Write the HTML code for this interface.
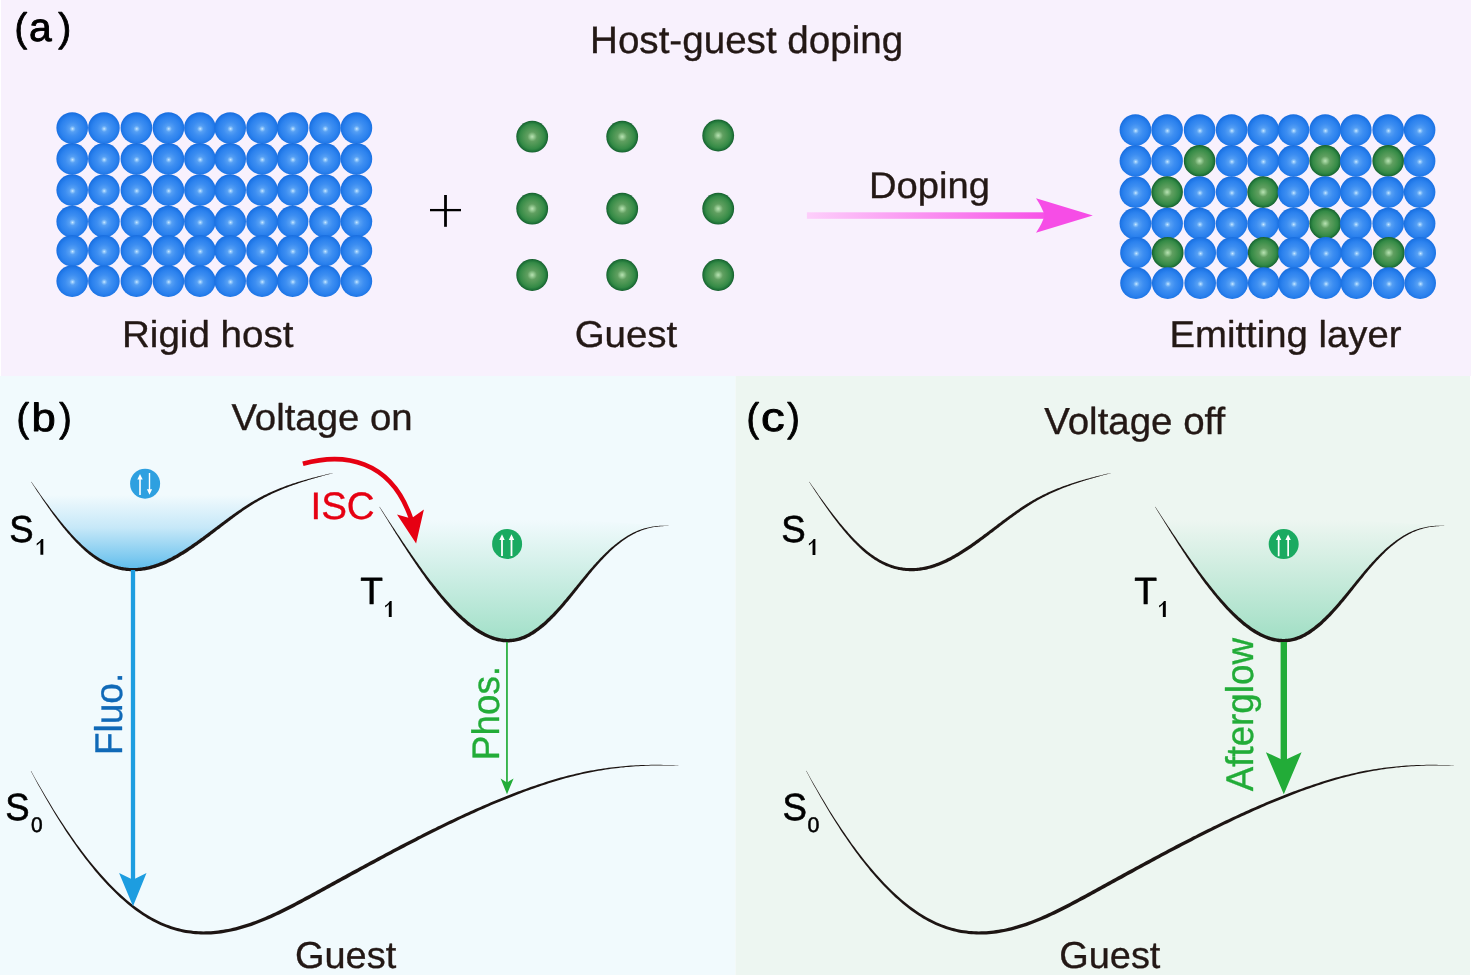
<!DOCTYPE html><html><head><meta charset="utf-8"><style>html,body{margin:0;padding:0;background:#fff}body{width:1471px;height:975px;overflow:hidden}</style></head><body><svg width="1471" height="975" viewBox="0 0 1471 975" style="display:block;font-family:'Liberation Sans',sans-serif;will-change:transform;text-rendering:geometricPrecision">
<defs>
<radialGradient id="gb" cx="0.51" cy="0.527" r="0.5" fx="0.51" fy="0.527">
<stop offset="0" stop-color="#d0ebff"/><stop offset="0.08" stop-color="#8fc6fb"/><stop offset="0.2" stop-color="#559ff4"/><stop offset="0.45" stop-color="#3d8ef1"/><stop offset="0.75" stop-color="#2c82ee"/><stop offset="0.93" stop-color="#1f77e7"/><stop offset="1" stop-color="#1b70e1"/>
</radialGradient>
<radialGradient id="gg" cx="0.5" cy="0.5" r="0.5">
<stop offset="0" stop-color="#b9e1b3"/><stop offset="0.12" stop-color="#95ca92"/><stop offset="0.3" stop-color="#609f60"/><stop offset="0.55" stop-color="#4a9552"/><stop offset="0.78" stop-color="#348a46"/><stop offset="0.92" stop-color="#1f7338"/><stop offset="1" stop-color="#155d2d"/>
</radialGradient>
<linearGradient id="garr" x1="807" x2="1045" y1="0" y2="0" gradientUnits="userSpaceOnUse">
<stop offset="0" stop-color="#fdcffb"/><stop offset="1" stop-color="#f752e7"/>
</linearGradient>
<linearGradient id="gS1" x1="0" x2="0" y1="495" y2="571" gradientUnits="userSpaceOnUse">
<stop offset="0" stop-color="#4db5ea" stop-opacity="0"/><stop offset="0.43" stop-color="#4db5ea" stop-opacity="0.26"/><stop offset="0.82" stop-color="#4db5ea" stop-opacity="0.70"/><stop offset="1" stop-color="#4db5ea" stop-opacity="0.92"/>
</linearGradient>
<linearGradient id="gT1" x1="0" x2="0" y1="520" y2="643" gradientUnits="userSpaceOnUse">
<stop offset="0" stop-color="#84d6b4" stop-opacity="0"/><stop offset="1" stop-color="#84d6b4" stop-opacity="0.74"/>
</linearGradient>
</defs>
<rect width="1471" height="975" fill="#fff"/>
<rect x="1" y="0" width="1470" height="376" fill="#f8f1fd"/>
<rect x="0" y="376" width="735.5" height="599" fill="#f1fafd"/>
<rect x="735.5" y="376" width="734.5" height="599" fill="#edf6f1"/>
<circle cx="72.2" cy="128.0" r="15.8" fill="url(#gb)"/>
<circle cx="103.9" cy="128.0" r="15.8" fill="url(#gb)"/>
<circle cx="136.4" cy="128.0" r="15.8" fill="url(#gb)"/>
<circle cx="168.4" cy="128.0" r="15.8" fill="url(#gb)"/>
<circle cx="199.9" cy="128.0" r="15.8" fill="url(#gb)"/>
<circle cx="230.2" cy="128.0" r="15.8" fill="url(#gb)"/>
<circle cx="262.0" cy="128.0" r="15.8" fill="url(#gb)"/>
<circle cx="292.6" cy="128.0" r="15.8" fill="url(#gb)"/>
<circle cx="325.0" cy="128.0" r="15.8" fill="url(#gb)"/>
<circle cx="356.4" cy="128.0" r="15.8" fill="url(#gb)"/>
<circle cx="72.2" cy="158.9" r="15.8" fill="url(#gb)"/>
<circle cx="103.9" cy="158.9" r="15.8" fill="url(#gb)"/>
<circle cx="136.4" cy="158.9" r="15.8" fill="url(#gb)"/>
<circle cx="168.4" cy="158.9" r="15.8" fill="url(#gb)"/>
<circle cx="199.9" cy="158.9" r="15.8" fill="url(#gb)"/>
<circle cx="230.2" cy="158.9" r="15.8" fill="url(#gb)"/>
<circle cx="262.0" cy="158.9" r="15.8" fill="url(#gb)"/>
<circle cx="292.6" cy="158.9" r="15.8" fill="url(#gb)"/>
<circle cx="325.0" cy="158.9" r="15.8" fill="url(#gb)"/>
<circle cx="356.4" cy="158.9" r="15.8" fill="url(#gb)"/>
<circle cx="72.2" cy="190.1" r="15.8" fill="url(#gb)"/>
<circle cx="103.9" cy="190.1" r="15.8" fill="url(#gb)"/>
<circle cx="136.4" cy="190.1" r="15.8" fill="url(#gb)"/>
<circle cx="168.4" cy="190.1" r="15.8" fill="url(#gb)"/>
<circle cx="199.9" cy="190.1" r="15.8" fill="url(#gb)"/>
<circle cx="230.2" cy="190.1" r="15.8" fill="url(#gb)"/>
<circle cx="262.0" cy="190.1" r="15.8" fill="url(#gb)"/>
<circle cx="292.6" cy="190.1" r="15.8" fill="url(#gb)"/>
<circle cx="325.0" cy="190.1" r="15.8" fill="url(#gb)"/>
<circle cx="356.4" cy="190.1" r="15.8" fill="url(#gb)"/>
<circle cx="72.2" cy="221.6" r="15.8" fill="url(#gb)"/>
<circle cx="103.9" cy="221.6" r="15.8" fill="url(#gb)"/>
<circle cx="136.4" cy="221.6" r="15.8" fill="url(#gb)"/>
<circle cx="168.4" cy="221.6" r="15.8" fill="url(#gb)"/>
<circle cx="199.9" cy="221.6" r="15.8" fill="url(#gb)"/>
<circle cx="230.2" cy="221.6" r="15.8" fill="url(#gb)"/>
<circle cx="262.0" cy="221.6" r="15.8" fill="url(#gb)"/>
<circle cx="292.6" cy="221.6" r="15.8" fill="url(#gb)"/>
<circle cx="325.0" cy="221.6" r="15.8" fill="url(#gb)"/>
<circle cx="356.4" cy="221.6" r="15.8" fill="url(#gb)"/>
<circle cx="72.2" cy="250.7" r="15.8" fill="url(#gb)"/>
<circle cx="103.9" cy="250.7" r="15.8" fill="url(#gb)"/>
<circle cx="136.4" cy="250.7" r="15.8" fill="url(#gb)"/>
<circle cx="168.4" cy="250.7" r="15.8" fill="url(#gb)"/>
<circle cx="199.9" cy="250.7" r="15.8" fill="url(#gb)"/>
<circle cx="230.2" cy="250.7" r="15.8" fill="url(#gb)"/>
<circle cx="262.0" cy="250.7" r="15.8" fill="url(#gb)"/>
<circle cx="292.6" cy="250.7" r="15.8" fill="url(#gb)"/>
<circle cx="325.0" cy="250.7" r="15.8" fill="url(#gb)"/>
<circle cx="356.4" cy="250.7" r="15.8" fill="url(#gb)"/>
<circle cx="72.2" cy="281.1" r="15.8" fill="url(#gb)"/>
<circle cx="103.9" cy="281.1" r="15.8" fill="url(#gb)"/>
<circle cx="136.4" cy="281.1" r="15.8" fill="url(#gb)"/>
<circle cx="168.4" cy="281.1" r="15.8" fill="url(#gb)"/>
<circle cx="199.9" cy="281.1" r="15.8" fill="url(#gb)"/>
<circle cx="230.2" cy="281.1" r="15.8" fill="url(#gb)"/>
<circle cx="262.0" cy="281.1" r="15.8" fill="url(#gb)"/>
<circle cx="292.6" cy="281.1" r="15.8" fill="url(#gb)"/>
<circle cx="325.0" cy="281.1" r="15.8" fill="url(#gb)"/>
<circle cx="356.4" cy="281.1" r="15.8" fill="url(#gb)"/>
<circle cx="532.2" cy="136.7" r="15.9" fill="url(#gg)"/>
<circle cx="532.2" cy="208.7" r="15.9" fill="url(#gg)"/>
<circle cx="532.2" cy="275.0" r="15.9" fill="url(#gg)"/>
<circle cx="622.2" cy="136.7" r="15.9" fill="url(#gg)"/>
<circle cx="622.2" cy="208.7" r="15.9" fill="url(#gg)"/>
<circle cx="622.2" cy="275.0" r="15.9" fill="url(#gg)"/>
<circle cx="718.2" cy="135.5" r="15.9" fill="url(#gg)"/>
<circle cx="718.2" cy="208.7" r="15.9" fill="url(#gg)"/>
<circle cx="718.2" cy="275.0" r="15.9" fill="url(#gg)"/>
<circle cx="1135.4" cy="130.0" r="15.8" fill="url(#gb)"/>
<circle cx="1167.1" cy="130.0" r="15.8" fill="url(#gb)"/>
<circle cx="1199.6" cy="130.0" r="15.8" fill="url(#gb)"/>
<circle cx="1231.6" cy="130.0" r="15.8" fill="url(#gb)"/>
<circle cx="1263.1" cy="130.0" r="15.8" fill="url(#gb)"/>
<circle cx="1293.4" cy="130.0" r="15.8" fill="url(#gb)"/>
<circle cx="1325.2" cy="130.0" r="15.8" fill="url(#gb)"/>
<circle cx="1355.8" cy="130.0" r="15.8" fill="url(#gb)"/>
<circle cx="1388.2" cy="130.0" r="15.8" fill="url(#gb)"/>
<circle cx="1419.6" cy="130.0" r="15.8" fill="url(#gb)"/>
<circle cx="1135.4" cy="160.9" r="15.8" fill="url(#gb)"/>
<circle cx="1167.1" cy="160.9" r="15.8" fill="url(#gb)"/>
<circle cx="1199.6" cy="160.9" r="15.8" fill="url(#gg)"/>
<circle cx="1231.6" cy="160.9" r="15.8" fill="url(#gb)"/>
<circle cx="1263.1" cy="160.9" r="15.8" fill="url(#gb)"/>
<circle cx="1293.4" cy="160.9" r="15.8" fill="url(#gb)"/>
<circle cx="1325.2" cy="160.9" r="15.8" fill="url(#gg)"/>
<circle cx="1355.8" cy="160.9" r="15.8" fill="url(#gb)"/>
<circle cx="1388.2" cy="160.9" r="15.8" fill="url(#gg)"/>
<circle cx="1419.6" cy="160.9" r="15.8" fill="url(#gb)"/>
<circle cx="1135.4" cy="192.1" r="15.8" fill="url(#gb)"/>
<circle cx="1167.1" cy="192.1" r="15.8" fill="url(#gg)"/>
<circle cx="1199.6" cy="192.1" r="15.8" fill="url(#gb)"/>
<circle cx="1231.6" cy="192.1" r="15.8" fill="url(#gb)"/>
<circle cx="1263.1" cy="192.1" r="15.8" fill="url(#gg)"/>
<circle cx="1293.4" cy="192.1" r="15.8" fill="url(#gb)"/>
<circle cx="1325.2" cy="192.1" r="15.8" fill="url(#gb)"/>
<circle cx="1355.8" cy="192.1" r="15.8" fill="url(#gb)"/>
<circle cx="1388.2" cy="192.1" r="15.8" fill="url(#gb)"/>
<circle cx="1419.6" cy="192.1" r="15.8" fill="url(#gb)"/>
<circle cx="1135.4" cy="223.6" r="15.8" fill="url(#gb)"/>
<circle cx="1167.1" cy="223.6" r="15.8" fill="url(#gb)"/>
<circle cx="1199.6" cy="223.6" r="15.8" fill="url(#gb)"/>
<circle cx="1231.6" cy="223.6" r="15.8" fill="url(#gb)"/>
<circle cx="1263.1" cy="223.6" r="15.8" fill="url(#gb)"/>
<circle cx="1293.4" cy="223.6" r="15.8" fill="url(#gb)"/>
<circle cx="1325.2" cy="223.6" r="15.8" fill="url(#gg)"/>
<circle cx="1355.8" cy="223.6" r="15.8" fill="url(#gb)"/>
<circle cx="1388.2" cy="223.6" r="15.8" fill="url(#gb)"/>
<circle cx="1419.6" cy="223.6" r="15.8" fill="url(#gb)"/>
<circle cx="1136.0" cy="252.7" r="15.8" fill="url(#gb)"/>
<circle cx="1167.7" cy="252.7" r="15.8" fill="url(#gg)"/>
<circle cx="1200.2" cy="252.7" r="15.8" fill="url(#gb)"/>
<circle cx="1232.2" cy="252.7" r="15.8" fill="url(#gb)"/>
<circle cx="1263.7" cy="252.7" r="15.8" fill="url(#gg)"/>
<circle cx="1294.0" cy="252.7" r="15.8" fill="url(#gb)"/>
<circle cx="1325.8" cy="252.7" r="15.8" fill="url(#gb)"/>
<circle cx="1356.4" cy="252.7" r="15.8" fill="url(#gb)"/>
<circle cx="1388.8" cy="252.7" r="15.8" fill="url(#gg)"/>
<circle cx="1420.2" cy="252.7" r="15.8" fill="url(#gb)"/>
<circle cx="1136.0" cy="283.1" r="15.8" fill="url(#gb)"/>
<circle cx="1167.7" cy="283.1" r="15.8" fill="url(#gb)"/>
<circle cx="1200.2" cy="283.1" r="15.8" fill="url(#gb)"/>
<circle cx="1232.2" cy="283.1" r="15.8" fill="url(#gb)"/>
<circle cx="1263.7" cy="283.1" r="15.8" fill="url(#gb)"/>
<circle cx="1294.0" cy="283.1" r="15.8" fill="url(#gb)"/>
<circle cx="1325.8" cy="283.1" r="15.8" fill="url(#gb)"/>
<circle cx="1356.4" cy="283.1" r="15.8" fill="url(#gb)"/>
<circle cx="1388.8" cy="283.1" r="15.8" fill="url(#gb)"/>
<circle cx="1420.2" cy="283.1" r="15.8" fill="url(#gb)"/>
<path d="M430 210.1H461" stroke="#000" stroke-width="2.3" fill="none"/><path d="M445.5 195V226.8" stroke="#000" stroke-width="2.8" fill="none"/>
<rect x="806.9" y="212.3" width="240" height="6.5" fill="url(#garr)"/>
<path d="M1092.8 215.5L1036 198.2Q1042.5 208 1044.6 215.5Q1042.5 223 1036 232.8Z" fill="#f64de6"/>
<text transform="translate(590.01,52.80) scale(1.0068,1)" font-size="38.34" fill="#231815" stroke="#231815" stroke-width="0.35" stroke-linejoin="round" vector-effect="non-scaling-stroke">Host-guest doping</text>
<text transform="translate(122.02,346.50) scale(1.0329,1)" font-size="37.35" fill="#231815" stroke="#231815" stroke-width="0.35" stroke-linejoin="round" vector-effect="non-scaling-stroke">Rigid host</text>
<text transform="translate(574.68,346.50) scale(1.0300,1)" font-size="37.35" fill="#231815" stroke="#231815" stroke-width="0.35" stroke-linejoin="round" vector-effect="non-scaling-stroke">Guest</text>
<text transform="translate(869.05,198.30) scale(1.0333,1)" font-size="36.92" fill="#231815" stroke="#231815" stroke-width="0.35" stroke-linejoin="round" vector-effect="non-scaling-stroke">Doping</text>
<text transform="translate(1169.44,346.80) scale(1.0261,1)" font-size="37.35" fill="#231815" stroke="#231815" stroke-width="0.35" stroke-linejoin="round" vector-effect="non-scaling-stroke">Emitting layer</text>
<text transform="translate(231.41,430.40) scale(1.0273,1)" font-size="37.35" fill="#231815" stroke="#231815" stroke-width="0.35" stroke-linejoin="round" vector-effect="non-scaling-stroke">Voltage on</text>
<text transform="translate(1044.21,433.60) scale(1.0217,1)" font-size="37.63" fill="#231815" stroke="#231815" stroke-width="0.35" stroke-linejoin="round" vector-effect="non-scaling-stroke">Voltage off</text>
<text transform="translate(310.44,518.50) scale(1.0065,1)" font-size="38.25" fill="#e60012" stroke="#e60012" stroke-width="0.35" stroke-linejoin="round" vector-effect="non-scaling-stroke">ISC</text>
<text transform="translate(295.00,968.30) scale(1.0118,1)" font-size="37.49" fill="#231815" stroke="#231815" stroke-width="0.35" stroke-linejoin="round" vector-effect="non-scaling-stroke">Guest</text>
<text transform="translate(1059.31,968.30) scale(1.0108,1)" font-size="37.49" fill="#231815" stroke="#231815" stroke-width="0.35" stroke-linejoin="round" vector-effect="non-scaling-stroke">Guest</text>
<text transform="translate(14.57,41.19) scale(0.9524,0.9946)" font-size="40.0" fill="#000" stroke="#000" stroke-width="0.9" stroke-linejoin="round" vector-effect="non-scaling-stroke">(</text>
<text transform="translate(29.02,41.05) scale(1.0195,1.0000)" font-size="40.0" fill="#000" stroke="#000" stroke-width="0.9" stroke-linejoin="round" vector-effect="non-scaling-stroke">a</text>
<text transform="translate(58.16,41.19) scale(0.9714,0.9946)" font-size="40.0" fill="#000" stroke="#000" stroke-width="0.9" stroke-linejoin="round" vector-effect="non-scaling-stroke">)</text>
<text transform="translate(16.59,431.29) scale(0.9429,0.9946)" font-size="40.0" fill="#000" stroke="#000" stroke-width="0.9" stroke-linejoin="round" vector-effect="non-scaling-stroke">(</text>
<text transform="translate(31.52,431.16) scale(1.0889,0.9830)" font-size="40.0" fill="#000" stroke="#000" stroke-width="0.9" stroke-linejoin="round" vector-effect="non-scaling-stroke">b</text>
<text transform="translate(59.27,431.29) scale(0.9333,0.9946)" font-size="40.0" fill="#000" stroke="#000" stroke-width="0.9" stroke-linejoin="round" vector-effect="non-scaling-stroke">)</text>
<text transform="translate(746.59,431.29) scale(0.9429,0.9946)" font-size="40.0" fill="#000" stroke="#000" stroke-width="0.9" stroke-linejoin="round" vector-effect="non-scaling-stroke">(</text>
<text transform="translate(761.03,431.14) scale(1.1860,1.0137)" font-size="40.0" fill="#000" stroke="#000" stroke-width="0.9" stroke-linejoin="round" vector-effect="non-scaling-stroke">c</text>
<text transform="translate(787.17,431.29) scale(0.9429,0.9946)" font-size="40.0" fill="#000" stroke="#000" stroke-width="0.9" stroke-linejoin="round" vector-effect="non-scaling-stroke">)</text>
<text transform="translate(9.26,542.42) scale(0.9130,0.9399)" font-size="40.0" fill="#000" stroke="#000" stroke-width="0.6" stroke-linejoin="round" vector-effect="non-scaling-stroke">S</text>
<path d="M43.30 554.70H40.40V542.30C39.21 543.64 38.15 544.82 36.70 545.46V543.40C38.68 542.38 40.54 540.48 41.50 538.90H43.30Z" fill="#000"/>
<text transform="translate(5.36,819.62) scale(0.9130,0.9435)" font-size="40.0" fill="#000" stroke="#000" stroke-width="0.6" stroke-linejoin="round" vector-effect="non-scaling-stroke">S</text>
<text transform="translate(31.06,832.29) scale(0.5236,0.5265)" font-size="40.0" fill="#000" stroke="#000" stroke-width="1.0" stroke-linejoin="round" vector-effect="non-scaling-stroke">0</text>
<text transform="translate(360.36,603.50) scale(0.9292,0.9491)" font-size="40.0" fill="#000" stroke="#000" stroke-width="0.6" stroke-linejoin="round" vector-effect="non-scaling-stroke">T</text>
<path d="M391.70 616.90H388.80V604.34C387.61 605.70 386.55 606.90 385.10 607.54V605.46C387.08 604.42 388.94 602.50 389.90 600.90H391.70Z" fill="#000"/>
<text transform="translate(781.35,542.42) scale(0.9174,0.9399)" font-size="40.0" fill="#000" stroke="#000" stroke-width="0.6" stroke-linejoin="round" vector-effect="non-scaling-stroke">S</text>
<path d="M815.40 554.90H812.54V542.34C811.37 543.70 810.33 544.90 808.90 545.54V543.46C810.85 542.42 812.68 540.50 813.63 538.90H815.40Z" fill="#000"/>
<text transform="translate(782.45,819.62) scale(0.9174,0.9435)" font-size="40.0" fill="#000" stroke="#000" stroke-width="0.6" stroke-linejoin="round" vector-effect="non-scaling-stroke">S</text>
<text transform="translate(807.55,832.29) scale(0.5340,0.5265)" font-size="40.0" fill="#000" stroke="#000" stroke-width="1.0" stroke-linejoin="round" vector-effect="non-scaling-stroke">0</text>
<text transform="translate(1134.36,603.50) scale(0.9336,0.9491)" font-size="40.0" fill="#000" stroke="#000" stroke-width="0.6" stroke-linejoin="round" vector-effect="non-scaling-stroke">T</text>
<path d="M1165.80 616.90H1162.85V604.34C1161.65 605.70 1160.57 606.90 1159.10 607.54V605.46C1161.11 604.42 1163.00 602.50 1163.97 600.90H1165.80Z" fill="#000"/>
<text transform="translate(121.80,755.05) rotate(-90) scale(0.9584,1)" font-size="38.63" fill="#1069b7" stroke="#1069b7" stroke-width="0.35" stroke-linejoin="round">Fluo.</text>
<text transform="translate(498.70,760.14) rotate(-90) scale(0.9612,1)" font-size="38.34" fill="#22ac38" stroke="#22ac38" stroke-width="0.35" stroke-linejoin="round">Phos.</text>
<text transform="translate(1253.00,791.29) rotate(-90) scale(0.9517,1)" font-size="38.63" fill="#22ac38" stroke="#22ac38" stroke-width="0.35" stroke-linejoin="round">Afterglow</text>
<path d="M31.3 481.9L32.5 483.6L33.6 485.4L34.8 487.1L36.0 488.8L37.1 490.5L38.3 492.2L39.4 493.9L40.6 495.6L41.8 497.3L42.9 498.9L44.1 500.6L45.3 502.2L46.4 503.9L47.6 505.5L48.7 507.1L49.9 508.7L51.1 510.3L52.2 511.9L53.4 513.4L54.6 515.0L55.7 516.5L56.9 518.0L58.1 519.5L59.2 521.0L60.4 522.5L61.5 523.9L62.7 525.4L63.9 526.8L65.0 528.2L66.2 529.6L67.4 530.9L68.5 532.3L69.7 533.6L70.9 534.9L72.0 536.2L73.2 537.5L74.3 538.7L75.5 539.9L76.7 541.1L77.8 542.3L79.0 543.5L80.2 544.6L81.3 545.7L82.5 546.8L83.6 547.9L84.8 549.0L86.0 550.0L87.1 551.0L88.3 551.9L89.5 552.9L90.6 553.8L91.8 554.7L93.0 555.6L94.1 556.4L95.3 557.2L96.4 558.0L97.6 558.7L98.8 559.5L99.9 560.2L101.1 560.9L102.3 561.5L103.4 562.1L104.6 562.7L105.8 563.3L106.9 563.8L108.1 564.3L109.2 564.8L110.4 565.3L111.6 565.8L112.7 566.2L113.9 566.6L115.1 566.9L116.2 567.3L117.4 567.6L118.5 567.9L119.7 568.2L120.9 568.4L122.0 568.6L123.2 568.8L124.4 569.0L125.5 569.2L126.7 569.3L127.9 569.4L129.0 569.5L130.2 569.6L131.3 569.6L132.5 569.7L133.7 569.7L134.8 569.6L136.0 569.6L137.2 569.5L138.3 569.5L139.5 569.4L140.7 569.2L141.8 569.1L143.0 568.9L144.1 568.7L145.3 568.5L146.5 568.3L147.6 568.1L148.8 567.8L150.0 567.5L151.1 567.2L152.3 566.9L153.4 566.6L154.6 566.2L155.8 565.9L156.9 565.5L158.1 565.1L159.3 564.7L160.4 564.2L161.6 563.8L162.8 563.3L163.9 562.8L165.1 562.3L166.2 561.8L167.4 561.2L168.6 560.7L169.7 560.1L170.9 559.5L172.1 558.9L173.2 558.3L174.4 557.7L175.6 557.0L176.7 556.4L177.9 555.7L179.0 555.0L180.2 554.3L181.4 553.6L182.5 552.9L183.7 552.2L184.9 551.5L186.0 550.7L187.2 550.0L188.3 549.2L189.5 548.4L190.7 547.6L191.8 546.8L193.0 546.0L194.2 545.2L195.3 544.4L196.5 543.6L197.7 542.7L198.8 541.9L200.0 541.1L201.1 540.2L202.3 539.4L203.5 538.5L204.6 537.6L205.8 536.8L207.0 535.9L208.1 535.0L209.3 534.2L210.5 533.3L211.6 532.4L212.8 531.5L213.9 530.6L215.1 529.7L216.3 528.9L217.4 528.0L218.6 527.1L219.8 526.2L220.9 525.3L222.1 524.4L223.2 523.6L224.4 522.7L225.6 521.8L226.7 520.9L227.9 520.1L229.1 519.2L230.2 518.3L231.4 517.5L232.6 516.6L233.7 515.8L234.9 514.9L236.0 514.1L237.2 513.3L238.4 512.4L239.5 511.6L240.7 510.8L241.9 510.0L243.0 509.2L244.2 508.4L245.4 507.6L246.5 506.9L247.7 506.1L248.8 505.4L250.0 504.6L251.2 503.9L252.3 503.2L253.5 502.5L254.7 501.8L255.8 501.1L257.0 500.4L258.1 499.8L259.3 499.1L260.5 498.5L261.6 497.8L262.8 497.2L264.0 496.6L265.1 496.0L266.3 495.4L267.5 494.9L268.6 494.3L269.8 493.7L270.9 493.2L272.1 492.7L273.3 492.1L274.4 491.6L275.6 491.1L276.8 490.6L277.9 490.1L279.1 489.6L280.3 489.1L281.4 488.7L282.6 488.2L283.7 487.7L284.9 487.3L286.1 486.9L287.2 486.4L288.4 486.0L289.6 485.6L290.7 485.2L291.9 484.8L293.0 484.4L294.2 484.0L295.4 483.6L296.5 483.2L297.7 482.8L298.9 482.4L300.0 482.1L301.2 481.7L302.4 481.3L303.5 481.0L304.7 480.6L305.8 480.3L307.0 480.0L308.2 479.6L309.3 479.3L310.5 478.9L311.7 478.6L312.8 478.3L314.0 478.0L315.2 477.6L316.3 477.3L317.5 477.0L318.6 476.7L319.8 476.4L321.0 476.1L322.1 475.8L323.3 475.5L324.5 475.2L325.6 474.9L326.8 474.6L327.9 474.3L329.1 473.9L330.3 473.6L331.4 473.3L332.6 473.0Z" fill="url(#gS1)"/>
<path d="M31.2 482.0L32.3 483.7L33.4 485.5L34.6 487.2L35.7 489.0L36.8 490.7L38.0 492.4L39.1 494.1L40.3 495.8L41.4 497.5L42.5 499.2L43.7 500.9L44.8 502.6L46.0 504.2L47.1 505.8L48.2 507.5L49.4 509.1L50.5 510.7L51.7 512.3L52.8 513.9L54.0 515.4L55.1 517.0L56.3 518.5L57.4 520.0L58.5 521.5L59.7 523.0L60.8 524.5L62.0 525.9L63.1 527.4L64.3 528.8L65.4 530.2L66.6 531.6L67.7 532.9L68.9 534.3L70.1 535.6L71.2 536.9L72.4 538.2L73.5 539.5L74.7 540.7L75.8 542.0L77.0 543.2L78.2 544.3L79.3 545.5L80.5 546.6L81.6 547.8L82.8 548.8L84.0 549.9L85.1 551.0L86.3 552.0L87.5 553.0L88.6 553.9L89.8 554.9L91.0 555.8L92.1 556.7L93.3 557.5L94.5 558.4L95.7 559.2L96.8 559.9L98.0 560.7L99.2 561.4L100.4 562.1L101.6 562.8L102.7 563.4L103.9 564.0L105.1 564.6L106.3 565.2L107.5 565.7L108.7 566.2L109.9 566.7L111.0 567.2L112.2 567.6L113.4 568.0L114.6 568.4L115.8 568.8L117.0 569.1L118.2 569.4L119.4 569.7L120.6 570.0L121.7 570.2L122.9 570.4L124.1 570.6L125.3 570.8L126.5 570.9L127.7 571.0L128.9 571.1L130.1 571.2L131.3 571.3L132.5 571.3L133.7 571.3L134.9 571.3L136.1 571.3L137.3 571.2L138.5 571.1L139.6 571.0L140.8 570.9L142.0 570.8L143.2 570.6L144.4 570.4L145.6 570.2L146.8 570.0L148.0 569.8L149.2 569.5L150.4 569.2L151.6 568.9L152.7 568.6L153.9 568.3L155.1 567.9L156.3 567.5L157.5 567.1L158.7 566.7L159.9 566.3L161.1 565.8L162.2 565.4L163.4 564.9L164.6 564.4L165.8 563.9L167.0 563.4L168.2 562.8L169.3 562.3L170.5 561.7L171.7 561.1L172.9 560.5L174.0 559.9L175.2 559.2L176.4 558.6L177.6 557.9L178.8 557.2L179.9 556.5L181.1 555.8L182.3 555.1L183.5 554.4L184.6 553.7L185.8 552.9L187.0 552.2L188.1 551.4L189.3 550.6L190.5 549.8L191.6 549.1L192.8 548.2L194.0 547.4L195.1 546.6L196.3 545.8L197.5 545.0L198.6 544.1L199.8 543.3L201.0 542.4L202.1 541.6L203.3 540.7L204.5 539.9L205.6 539.0L206.8 538.1L208.0 537.2L209.1 536.4L210.3 535.5L211.4 534.6L212.6 533.7L213.8 532.8L214.9 531.9L216.1 531.0L217.2 530.1L218.4 529.3L219.6 528.4L220.7 527.5L221.9 526.6L223.0 525.7L224.2 524.8L225.3 523.9L226.5 523.0L227.7 522.2L228.8 521.3L230.0 520.4L231.1 519.5L232.3 518.7L233.4 517.8L234.6 517.0L235.7 516.1L236.9 515.3L238.0 514.4L239.2 513.6L240.3 512.8L241.5 512.0L242.6 511.1L243.8 510.3L244.9 509.5L246.1 508.8L247.2 508.0L248.4 507.2L249.5 506.5L250.7 505.7L251.8 505.0L253.0 504.3L254.1 503.5L255.3 502.8L256.4 502.2L257.6 501.5L258.7 500.8L259.9 500.2L261.0 499.5L262.2 498.9L263.3 498.2L264.5 497.6L265.6 497.0L266.8 496.4L267.9 495.8L269.1 495.3L270.2 494.7L271.4 494.1L272.5 493.6L273.7 493.1L274.8 492.5L276.0 492.0L277.1 491.5L278.3 491.0L279.5 490.5L280.6 490.0L281.8 489.5L282.9 489.0L284.1 488.6L285.2 488.1L286.4 487.7L287.5 487.2L288.7 486.8L289.8 486.3L291.0 485.9L292.1 485.5L293.3 485.1L294.5 484.7L295.6 484.3L296.8 483.9L297.9 483.5L299.1 483.1L300.2 482.7L301.4 482.3L302.5 482.0L303.7 481.6L304.9 481.2L306.0 480.9L307.2 480.5L308.3 480.1L309.5 479.8L310.6 479.4L311.8 479.1L313.0 478.8L314.1 478.4L315.3 478.1L316.4 477.7L317.6 477.4L318.7 477.1L319.9 476.8L321.1 476.4L322.2 476.1L323.4 475.8L324.5 475.5L325.7 475.1L326.8 474.8L328.0 474.5L329.2 474.2L330.3 473.8L331.5 473.5L332.6 473.2L332.6 472.9L331.4 473.2L330.2 473.5L329.1 473.7L327.9 474.0L326.7 474.3L325.5 474.6L324.4 474.9L323.2 475.2L322.0 475.4L320.9 475.7L319.7 476.0L318.5 476.3L317.4 476.6L316.2 476.9L315.0 477.2L313.9 477.5L312.7 477.8L311.5 478.1L310.4 478.4L309.2 478.8L308.0 479.1L306.8 479.4L305.7 479.7L304.5 480.1L303.3 480.4L302.2 480.7L301.0 481.1L299.8 481.4L298.7 481.8L297.5 482.1L296.3 482.5L295.1 482.9L294.0 483.3L292.8 483.6L291.6 484.0L290.5 484.4L289.3 484.8L288.1 485.2L286.9 485.6L285.8 486.1L284.6 486.5L283.4 486.9L282.2 487.4L281.1 487.8L279.9 488.3L278.7 488.7L277.5 489.2L276.4 489.7L275.2 490.2L274.0 490.7L272.8 491.2L271.7 491.7L270.5 492.2L269.3 492.8L268.1 493.3L267.0 493.9L265.8 494.4L264.6 495.0L263.4 495.6L262.3 496.2L261.1 496.8L259.9 497.4L258.7 498.1L257.6 498.7L256.4 499.4L255.2 500.0L254.0 500.7L252.8 501.4L251.7 502.1L250.5 502.8L249.3 503.5L248.1 504.3L247.0 505.0L245.8 505.7L244.6 506.5L243.4 507.3L242.3 508.1L241.1 508.9L239.9 509.7L238.7 510.5L237.6 511.3L236.4 512.1L235.2 512.9L234.0 513.7L232.9 514.6L231.7 515.4L230.5 516.3L229.3 517.1L228.2 518.0L227.0 518.8L225.8 519.7L224.7 520.6L223.5 521.4L222.3 522.3L221.1 523.2L220.0 524.1L218.8 524.9L217.6 525.8L216.5 526.7L215.3 527.6L214.1 528.5L213.0 529.3L211.8 530.2L210.6 531.1L209.5 532.0L208.3 532.8L207.1 533.7L206.0 534.6L204.8 535.4L203.6 536.3L202.5 537.2L201.3 538.0L200.1 538.8L199.0 539.7L197.8 540.5L196.7 541.4L195.5 542.2L194.3 543.0L193.2 543.8L192.0 544.6L190.9 545.4L189.7 546.2L188.5 547.0L187.4 547.7L186.2 548.5L185.1 549.3L183.9 550.0L182.8 550.7L181.6 551.4L180.5 552.1L179.3 552.8L178.2 553.5L177.0 554.2L175.9 554.9L174.7 555.5L173.5 556.1L172.4 556.8L171.3 557.4L170.1 558.0L169.0 558.5L167.8 559.1L166.7 559.7L165.5 560.2L164.4 560.7L163.2 561.2L162.1 561.7L160.9 562.1L159.8 562.6L158.7 563.0L157.5 563.4L156.4 563.8L155.2 564.2L154.1 564.6L153.0 564.9L151.8 565.3L150.7 565.6L149.5 565.9L148.4 566.2L147.3 566.4L146.1 566.6L145.0 566.9L143.9 567.1L142.7 567.3L141.6 567.4L140.5 567.6L139.3 567.7L138.2 567.8L137.1 567.9L135.9 567.9L134.8 568.0L133.7 568.0L132.5 568.0L131.4 568.0L130.3 567.9L129.1 567.9L128.0 567.8L126.9 567.7L125.7 567.6L124.6 567.4L123.5 567.3L122.3 567.1L121.2 566.9L120.1 566.6L118.9 566.4L117.8 566.1L116.7 565.8L115.5 565.4L114.4 565.1L113.2 564.7L112.1 564.3L111.0 563.9L109.8 563.4L108.7 563.0L107.5 562.5L106.4 561.9L105.3 561.4L104.1 560.8L103.0 560.2L101.8 559.6L100.7 558.9L99.5 558.3L98.4 557.6L97.2 556.8L96.1 556.1L94.9 555.3L93.8 554.5L92.6 553.6L91.5 552.7L90.3 551.8L89.1 550.9L88.0 550.0L86.8 549.0L85.7 548.0L84.5 547.0L83.3 545.9L82.2 544.9L81.0 543.8L79.8 542.6L78.7 541.5L77.5 540.3L76.3 539.2L75.2 537.9L74.0 536.7L72.8 535.5L71.6 534.2L70.5 532.9L69.3 531.6L68.1 530.3L67.0 528.9L65.8 527.6L64.6 526.2L63.4 524.8L62.2 523.3L61.1 521.9L59.9 520.5L58.7 519.0L57.5 517.5L56.4 516.0L55.2 514.5L54.0 513.0L52.8 511.4L51.6 509.9L50.4 508.3L49.3 506.7L48.1 505.1L46.9 503.5L45.7 501.9L44.5 500.3L43.3 498.7L42.1 497.0L41.0 495.4L39.8 493.7L38.6 492.0L37.4 490.3L36.2 488.6L35.0 486.9L33.8 485.2L32.6 483.5L31.4 481.8Z" fill="#1d1513"/>
<path d="M379.5 506.9L380.6 508.6L381.7 510.4L382.8 512.1L384.0 513.9L385.1 515.6L386.2 517.4L387.3 519.1L388.4 520.9L389.5 522.6L390.7 524.4L391.8 526.1L392.9 527.9L394.0 529.6L395.1 531.3L396.2 533.0L397.4 534.8L398.5 536.5L399.6 538.2L400.7 539.9L401.8 541.6L402.9 543.3L404.0 545.0L405.2 546.7L406.3 548.3L407.4 550.0L408.5 551.7L409.6 553.3L410.7 555.0L411.9 556.6L413.0 558.3L414.1 559.9L415.2 561.5L416.3 563.1L417.4 564.7L418.6 566.3L419.7 567.9L420.8 569.4L421.9 571.0L423.0 572.6L424.1 574.1L425.2 575.6L426.4 577.1L427.5 578.6L428.6 580.1L429.7 581.6L430.8 583.1L431.9 584.6L433.1 586.0L434.2 587.4L435.3 588.9L436.4 590.3L437.5 591.7L438.6 593.0L439.8 594.4L440.9 595.8L442.0 597.1L443.1 598.4L444.2 599.7L445.3 601.0L446.4 602.3L447.6 603.5L448.7 604.8L449.8 606.0L450.9 607.2L452.0 608.4L453.1 609.6L454.3 610.7L455.4 611.9L456.5 613.0L457.6 614.1L458.7 615.2L459.8 616.3L461.0 617.3L462.1 618.3L463.2 619.3L464.3 620.3L465.4 621.3L466.5 622.2L467.7 623.2L468.8 624.1L469.9 625.0L471.0 625.8L472.1 626.7L473.2 627.5L474.3 628.3L475.5 629.1L476.6 629.8L477.7 630.6L478.8 631.3L479.9 631.9L481.0 632.6L482.2 633.2L483.3 633.8L484.4 634.4L485.5 635.0L486.6 635.5L487.7 636.0L488.9 636.5L490.0 637.0L491.1 637.4L492.2 637.8L493.3 638.2L494.4 638.6L495.5 638.9L496.7 639.2L497.8 639.5L498.9 639.7L500.0 639.9L501.1 640.1L502.2 640.3L503.4 640.4L504.5 640.5L505.6 640.6L506.7 640.6L507.8 640.6L508.9 640.6L510.1 640.6L511.2 640.5L512.3 640.4L513.4 640.3L514.5 640.1L515.6 639.9L516.7 639.6L517.9 639.4L519.0 639.1L520.1 638.7L521.2 638.4L522.3 638.0L523.4 637.5L524.6 637.1L525.7 636.6L526.8 636.0L527.9 635.5L529.0 634.9L530.1 634.3L531.3 633.6L532.4 632.9L533.5 632.2L534.6 631.5L535.7 630.7L536.8 629.9L537.9 629.1L539.1 628.2L540.2 627.4L541.3 626.5L542.4 625.5L543.5 624.6L544.6 623.6L545.8 622.6L546.9 621.6L548.0 620.6L549.1 619.5L550.2 618.4L551.3 617.3L552.5 616.2L553.6 615.0L554.7 613.9L555.8 612.7L556.9 611.5L558.0 610.3L559.1 609.0L560.3 607.8L561.4 606.5L562.5 605.2L563.6 603.9L564.7 602.6L565.8 601.3L567.0 599.9L568.1 598.6L569.2 597.2L570.3 595.8L571.4 594.5L572.5 593.1L573.7 591.7L574.8 590.3L575.9 589.0L577.0 587.6L578.1 586.2L579.2 584.8L580.3 583.4L581.5 582.0L582.6 580.6L583.7 579.3L584.8 577.9L585.9 576.5L587.0 575.2L588.2 573.8L589.3 572.5L590.4 571.1L591.5 569.8L592.6 568.5L593.7 567.2L594.9 565.9L596.0 564.7L597.1 563.4L598.2 562.2L599.3 561.0L600.4 559.8L601.6 558.6L602.7 557.4L603.8 556.3L604.9 555.2L606.0 554.1L607.1 553.0L608.2 551.9L609.4 550.9L610.5 549.8L611.6 548.8L612.7 547.8L613.8 546.9L614.9 545.9L616.1 545.0L617.2 544.1L618.3 543.2L619.4 542.3L620.5 541.5L621.6 540.7L622.8 539.9L623.9 539.1L625.0 538.3L626.1 537.6L627.2 536.9L628.3 536.2L629.4 535.6L630.6 534.9L631.7 534.3L632.8 533.7L633.9 533.1L635.0 532.6L636.1 532.1L637.3 531.6L638.4 531.1L639.5 530.7L640.6 530.2L641.7 529.8L642.8 529.4L644.0 529.1L645.1 528.7L646.2 528.4L647.3 528.1L648.4 527.9L649.5 527.6L650.6 527.4L651.8 527.1L652.9 526.9L654.0 526.8L655.1 526.6L656.2 526.5L657.3 526.3L658.5 526.2L659.6 526.1L660.7 526.0L661.8 526.0L662.9 525.9L664.0 525.9L665.2 525.9L666.3 525.9L667.4 525.9L668.5 525.9Z" fill="url(#gT1)"/>
<path d="M379.4 506.9L380.5 508.7L381.5 510.5L382.6 512.3L383.7 514.0L384.8 515.8L385.9 517.6L387.0 519.3L388.1 521.1L389.2 522.9L390.3 524.6L391.4 526.4L392.5 528.1L393.5 529.9L394.6 531.6L395.7 533.4L396.8 535.1L397.9 536.8L399.0 538.6L400.1 540.3L401.2 542.0L402.3 543.7L403.4 545.4L404.5 547.1L405.6 548.8L406.7 550.5L407.8 552.2L408.9 553.8L410.0 555.5L411.1 557.2L412.2 558.8L413.3 560.4L414.4 562.1L415.5 563.7L416.6 565.3L417.7 566.9L418.8 568.5L419.9 570.1L421.0 571.7L422.1 573.2L423.2 574.8L424.3 576.3L425.4 577.9L426.5 579.4L427.6 580.9L428.7 582.4L429.8 583.9L430.9 585.3L432.0 586.8L433.1 588.2L434.3 589.7L435.4 591.1L436.5 592.5L437.6 593.9L438.7 595.3L439.8 596.6L440.9 598.0L442.0 599.3L443.1 600.6L444.2 602.0L445.4 603.2L446.5 604.5L447.6 605.8L448.7 607.0L449.8 608.2L450.9 609.4L452.0 610.6L453.2 611.8L454.3 613.0L455.4 614.1L456.5 615.2L457.6 616.3L458.8 617.4L459.9 618.5L461.0 619.5L462.1 620.5L463.2 621.5L464.4 622.5L465.5 623.5L466.6 624.4L467.7 625.4L468.9 626.3L470.0 627.1L471.1 628.0L472.3 628.8L473.4 629.7L474.5 630.4L475.6 631.2L476.8 632.0L477.9 632.7L479.1 633.4L480.2 634.1L481.3 634.7L482.5 635.3L483.6 636.0L484.7 636.5L485.9 637.1L487.0 637.6L488.2 638.1L489.3 638.6L490.5 639.0L491.6 639.5L492.8 639.9L493.9 640.2L495.1 640.6L496.2 640.9L497.4 641.2L498.5 641.4L499.7 641.6L500.9 641.8L502.0 642.0L503.2 642.2L504.3 642.3L505.5 642.3L506.7 642.4L507.8 642.4L509.0 642.4L510.2 642.3L511.3 642.2L512.5 642.1L513.6 642.0L514.8 641.8L516.0 641.6L517.1 641.3L518.3 641.1L519.5 640.8L520.6 640.4L521.8 640.0L522.9 639.6L524.1 639.2L525.3 638.7L526.4 638.2L527.6 637.6L528.7 637.0L529.9 636.4L531.0 635.8L532.1 635.1L533.3 634.4L534.4 633.7L535.6 632.9L536.7 632.1L537.8 631.3L539.0 630.5L540.1 629.6L541.2 628.7L542.4 627.8L543.5 626.9L544.6 625.9L545.8 624.9L546.9 623.9L548.0 622.8L549.1 621.8L550.3 620.7L551.4 619.6L552.5 618.5L553.6 617.3L554.8 616.2L555.9 615.0L557.0 613.8L558.1 612.6L559.2 611.3L560.4 610.1L561.5 608.8L562.6 607.5L563.7 606.2L564.8 604.9L565.9 603.6L567.0 602.3L568.2 600.9L569.3 599.5L570.4 598.2L571.5 596.8L572.6 595.4L573.7 594.0L574.8 592.7L575.9 591.3L577.0 589.9L578.1 588.5L579.2 587.1L580.3 585.7L581.4 584.3L582.5 582.9L583.7 581.5L584.8 580.1L585.9 578.7L587.0 577.4L588.1 576.0L589.2 574.6L590.3 573.3L591.4 572.0L592.5 570.6L593.6 569.3L594.7 568.0L595.8 566.7L596.9 565.5L598.0 564.2L599.1 563.0L600.2 561.8L601.3 560.6L602.4 559.4L603.5 558.2L604.6 557.1L605.7 555.9L606.8 554.8L607.9 553.7L608.9 552.7L610.0 551.6L611.1 550.6L612.2 549.6L613.3 548.6L614.4 547.6L615.5 546.6L616.6 545.7L617.7 544.8L618.8 543.9L619.9 543.0L621.0 542.2L622.1 541.3L623.2 540.5L624.3 539.8L625.4 539.0L626.5 538.3L627.6 537.5L628.7 536.8L629.8 536.2L630.9 535.5L632.0 534.9L633.1 534.3L634.2 533.7L635.3 533.2L636.4 532.6L637.5 532.1L638.6 531.7L639.7 531.2L640.8 530.8L641.9 530.3L643.0 530.0L644.1 529.6L645.2 529.2L646.3 528.9L647.4 528.6L648.5 528.3L649.6 528.0L650.7 527.8L651.8 527.6L652.9 527.3L654.1 527.1L655.2 527.0L656.3 526.8L657.4 526.7L658.5 526.5L659.6 526.4L660.7 526.3L661.8 526.2L662.9 526.2L664.0 526.1L665.2 526.1L666.3 526.1L667.4 526.0L668.5 526.0L668.5 525.7L667.4 525.7L666.3 525.7L665.1 525.7L664.0 525.7L662.9 525.7L661.8 525.7L660.7 525.8L659.5 525.8L658.4 525.9L657.3 526.0L656.2 526.1L655.1 526.2L653.9 526.4L652.8 526.6L651.7 526.7L650.6 526.9L649.4 527.2L648.3 527.4L647.2 527.7L646.1 528.0L644.9 528.3L643.8 528.6L642.7 528.9L641.5 529.3L640.4 529.7L639.3 530.1L638.1 530.6L637.0 531.0L635.9 531.5L634.7 532.0L633.6 532.5L632.5 533.1L631.3 533.7L630.2 534.3L629.1 534.9L627.9 535.6L626.8 536.3L625.7 537.0L624.5 537.7L623.4 538.4L622.3 539.2L621.1 540.0L620.0 540.8L618.9 541.7L617.7 542.5L616.6 543.4L615.5 544.3L614.3 545.2L613.2 546.2L612.1 547.1L610.9 548.1L609.8 549.1L608.7 550.1L607.5 551.2L606.4 552.2L605.3 553.3L604.1 554.4L603.0 555.5L601.9 556.7L600.7 557.8L599.6 559.0L598.5 560.2L597.3 561.4L596.2 562.6L595.1 563.9L593.9 565.1L592.8 566.4L591.7 567.7L590.5 569.0L589.4 570.3L588.3 571.6L587.2 573.0L586.0 574.3L584.9 575.7L583.8 577.0L582.6 578.4L581.5 579.8L580.4 581.1L579.3 582.5L578.1 583.9L577.0 585.3L575.9 586.7L574.7 588.0L573.6 589.4L572.5 590.8L571.4 592.2L570.3 593.5L569.1 594.9L568.0 596.2L566.9 597.6L565.8 598.9L564.6 600.2L563.5 601.6L562.4 602.9L561.3 604.2L560.2 605.4L559.1 606.7L557.9 607.9L556.8 609.2L555.7 610.4L554.6 611.6L553.5 612.7L552.4 613.9L551.3 615.0L550.2 616.1L549.1 617.2L547.9 618.3L546.8 619.3L545.7 620.4L544.6 621.4L543.5 622.4L542.4 623.3L541.3 624.2L540.2 625.1L539.1 626.0L538.0 626.9L536.9 627.7L535.8 628.5L534.7 629.3L533.6 630.0L532.5 630.8L531.5 631.5L530.4 632.1L529.3 632.8L528.2 633.4L527.1 633.9L526.0 634.5L524.9 635.0L523.9 635.5L522.8 635.9L521.7 636.3L520.6 636.7L519.6 637.1L518.5 637.4L517.4 637.7L516.4 637.9L515.3 638.2L514.2 638.4L513.2 638.5L512.1 638.7L511.0 638.8L510.0 638.8L508.9 638.9L507.8 638.9L506.7 638.9L505.7 638.8L504.6 638.8L503.5 638.7L502.5 638.6L501.4 638.4L500.3 638.2L499.2 638.0L498.2 637.8L497.1 637.5L496.0 637.2L494.9 636.9L493.9 636.6L492.8 636.2L491.7 635.8L490.6 635.4L489.5 635.0L488.4 634.5L487.3 634.0L486.3 633.5L485.2 632.9L484.1 632.3L483.0 631.8L481.9 631.1L480.8 630.5L479.7 629.8L478.6 629.1L477.5 628.4L476.4 627.7L475.3 626.9L474.2 626.1L473.1 625.3L472.0 624.5L470.9 623.7L469.8 622.8L468.7 621.9L467.6 621.0L466.5 620.1L465.4 619.1L464.3 618.1L463.1 617.2L462.0 616.1L460.9 615.1L459.8 614.1L458.7 613.0L457.6 611.9L456.5 610.8L455.4 609.7L454.2 608.5L453.1 607.4L452.0 606.2L450.9 605.0L449.8 603.8L448.7 602.6L447.5 601.3L446.4 600.1L445.3 598.8L444.2 597.5L443.1 596.2L441.9 594.9L440.8 593.5L439.7 592.2L438.6 590.8L437.5 589.4L436.3 588.0L435.2 586.6L434.1 585.2L433.0 583.8L431.8 582.3L430.7 580.9L429.6 579.4L428.5 577.9L427.3 576.4L426.2 574.9L425.1 573.4L423.9 571.9L422.8 570.4L421.7 568.8L420.6 567.3L419.4 565.7L418.3 564.1L417.2 562.5L416.0 560.9L414.9 559.3L413.8 557.7L412.6 556.1L411.5 554.5L410.4 552.8L409.2 551.2L408.1 549.5L407.0 547.9L405.8 546.2L404.7 544.6L403.6 542.9L402.4 541.2L401.3 539.5L400.2 537.8L399.0 536.1L397.9 534.4L396.7 532.7L395.6 531.0L394.5 529.3L393.3 527.6L392.2 525.9L391.0 524.1L389.9 522.4L388.8 520.7L387.6 518.9L386.5 517.2L385.3 515.5L384.2 513.7L383.1 512.0L381.9 510.3L380.8 508.5L379.6 506.8Z" fill="#1d1513"/>
<path d="M30.8 771.0L33.2 775.6L35.7 780.2L38.1 784.7L40.6 789.1L43.1 793.5L45.5 797.8L48.0 802.1L50.5 806.3L53.0 810.4L55.4 814.5L57.9 818.5L60.4 822.5L62.9 826.3L65.3 830.2L67.8 833.9L70.3 837.6L72.8 841.2L75.3 844.8L77.7 848.3L80.2 851.7L82.7 855.1L85.2 858.4L87.7 861.6L90.2 864.7L92.7 867.8L95.1 870.9L97.6 873.8L100.1 876.7L102.6 879.5L105.1 882.3L107.6 885.0L110.1 887.6L112.6 890.1L115.1 892.6L117.6 895.0L120.1 897.4L122.6 899.6L125.1 901.8L127.6 904.0L130.1 906.0L132.6 908.0L135.1 909.9L137.6 911.7L140.2 913.5L142.7 915.2L145.2 916.8L147.7 918.4L150.2 919.8L152.7 921.2L155.3 922.6L157.8 923.8L160.3 925.0L162.8 926.1L165.4 927.1L167.9 928.1L170.4 929.0L173.0 929.8L175.5 930.5L178.0 931.2L180.6 931.8L183.1 932.4L185.6 932.9L188.2 933.3L190.7 933.6L193.2 933.9L195.8 934.2L198.3 934.3L200.9 934.5L203.4 934.5L205.9 934.5L208.5 934.5L211.0 934.4L213.5 934.2L216.1 934.0L218.6 933.7L221.1 933.4L223.7 933.0L226.2 932.6L228.7 932.1L231.3 931.6L233.8 931.0L236.3 930.4L238.8 929.8L241.4 929.1L243.9 928.3L246.4 927.6L248.9 926.8L251.5 925.9L254.0 925.0L256.5 924.1L259.0 923.1L261.5 922.1L264.1 921.1L266.6 920.1L269.1 919.0L271.6 917.9L274.1 916.7L276.6 915.6L279.2 914.4L281.7 913.2L284.2 912.0L286.7 910.8L289.2 909.5L291.7 908.2L294.2 906.9L296.7 905.6L299.2 904.3L301.7 903.0L304.2 901.6L306.8 900.3L309.3 898.9L311.8 897.6L314.3 896.2L316.8 894.8L319.3 893.5L321.8 892.1L324.3 890.7L326.8 889.3L329.3 888.0L331.8 886.6L334.3 885.2L336.8 883.8L339.3 882.5L341.8 881.1L344.3 879.7L346.8 878.4L349.3 877.0L351.8 875.6L354.3 874.2L356.8 872.9L359.3 871.5L361.8 870.1L364.2 868.8L366.7 867.4L369.2 866.1L371.7 864.7L374.2 863.4L376.7 862.0L379.2 860.7L381.7 859.3L384.2 858.0L386.7 856.6L389.2 855.3L391.7 854.0L394.2 852.6L396.7 851.3L399.2 850.0L401.7 848.7L404.2 847.4L406.7 846.1L409.2 844.7L411.7 843.4L414.2 842.2L416.7 840.9L419.2 839.6L421.6 838.3L424.1 837.0L426.6 835.8L429.1 834.5L431.6 833.2L434.1 832.0L436.6 830.7L439.1 829.5L441.6 828.3L444.1 827.0L446.6 825.8L449.1 824.6L451.6 823.4L454.1 822.2L456.6 821.0L459.0 819.8L461.5 818.6L464.0 817.5L466.5 816.3L469.0 815.2L471.5 814.0L474.0 812.9L476.5 811.7L479.0 810.6L481.5 809.5L484.0 808.4L486.5 807.3L488.9 806.2L491.4 805.1L493.9 804.1L496.4 803.0L498.9 802.0L501.4 800.9L503.9 799.9L506.4 798.9L508.9 797.9L511.4 796.9L513.9 795.9L516.3 794.9L518.8 793.9L521.3 793.0L523.8 792.0L526.3 791.1L528.8 790.2L531.3 789.3L533.8 788.4L536.3 787.5L538.8 786.7L541.2 785.8L543.7 785.0L546.2 784.2L548.7 783.3L551.2 782.6L553.7 781.8L556.2 781.0L558.7 780.3L561.2 779.5L563.7 778.8L566.1 778.1L568.6 777.5L571.1 776.8L573.6 776.2L576.1 775.5L578.6 774.9L581.1 774.3L583.6 773.8L586.1 773.2L588.6 772.7L591.1 772.2L593.5 771.7L596.0 771.2L598.5 770.8L601.0 770.4L603.5 769.9L606.0 769.6L608.5 769.2L611.0 768.8L613.5 768.5L616.0 768.2L618.5 767.9L621.0 767.6L623.5 767.4L625.9 767.1L628.4 766.9L630.9 766.7L633.4 766.5L635.9 766.3L638.4 766.2L640.9 766.0L643.4 765.9L645.9 765.8L648.4 765.7L650.9 765.6L653.4 765.5L655.9 765.5L658.4 765.5L660.9 765.4L663.4 765.4L665.9 765.4L668.4 765.5L670.9 765.5L673.4 765.5L675.9 765.6L678.4 765.7L678.4 765.4L675.9 765.2L673.4 765.1L670.9 765.0L668.4 765.0L665.9 764.9L663.4 764.9L660.9 764.8L658.4 764.8L655.9 764.8L653.4 764.8L650.9 764.8L648.4 764.9L645.9 764.9L643.4 765.0L640.9 765.1L638.4 765.2L635.9 765.3L633.4 765.5L630.9 765.6L628.4 765.8L625.9 766.0L623.3 766.2L620.8 766.4L618.3 766.7L615.8 766.9L613.3 767.2L610.8 767.5L608.3 767.8L605.8 768.2L603.3 768.5L600.8 768.9L598.3 769.3L595.8 769.7L593.3 770.2L590.7 770.6L588.2 771.1L585.7 771.6L583.2 772.1L580.7 772.7L578.2 773.2L575.7 773.8L573.2 774.4L570.7 775.0L568.2 775.6L565.7 776.3L563.1 777.0L560.6 777.6L558.1 778.3L555.6 779.1L553.1 779.8L550.6 780.5L548.1 781.3L545.6 782.1L543.1 782.9L540.6 783.7L538.0 784.5L535.5 785.4L533.0 786.2L530.5 787.1L528.0 788.0L525.5 788.9L523.0 789.8L520.5 790.7L518.0 791.6L515.5 792.6L512.9 793.5L510.4 794.5L507.9 795.5L505.4 796.5L502.9 797.5L500.4 798.5L497.9 799.5L495.4 800.5L492.9 801.6L490.4 802.6L487.9 803.7L485.3 804.7L482.8 805.8L480.3 806.9L477.8 808.0L475.3 809.1L472.8 810.2L470.3 811.3L467.8 812.5L465.3 813.6L462.8 814.8L460.3 815.9L457.8 817.1L455.2 818.2L452.7 819.4L450.2 820.6L447.7 821.8L445.2 823.0L442.7 824.2L440.2 825.4L437.7 826.6L435.2 827.9L432.7 829.1L430.2 830.3L427.7 831.6L425.2 832.8L422.7 834.1L420.2 835.4L417.6 836.6L415.1 837.9L412.6 839.2L410.1 840.5L407.6 841.8L405.1 843.0L402.6 844.3L400.1 845.6L397.6 847.0L395.1 848.3L392.6 849.6L390.1 850.9L387.6 852.2L385.1 853.6L382.6 854.9L380.1 856.2L377.6 857.6L375.1 858.9L372.6 860.3L370.1 861.6L367.6 863.0L365.1 864.3L362.6 865.7L360.0 867.0L357.5 868.4L355.0 869.7L352.5 871.1L350.0 872.5L347.5 873.8L345.0 875.2L342.5 876.6L340.0 877.9L337.5 879.3L335.0 880.7L332.5 882.1L330.0 883.4L327.5 884.8L325.0 886.2L322.5 887.6L320.0 888.9L317.5 890.3L315.0 891.7L312.5 893.1L310.0 894.4L307.5 895.8L305.0 897.1L302.6 898.5L300.1 899.8L297.6 901.1L295.1 902.5L292.6 903.8L290.1 905.1L287.6 906.3L285.1 907.6L282.6 908.8L280.1 910.0L277.6 911.2L275.2 912.4L272.7 913.6L270.2 914.7L267.7 915.8L265.2 916.9L262.7 917.9L260.3 918.9L257.8 919.9L255.3 920.9L252.8 921.8L250.3 922.7L247.9 923.5L245.4 924.3L242.9 925.1L240.4 925.8L238.0 926.5L235.5 927.2L233.0 927.8L230.5 928.4L228.1 928.9L225.6 929.3L223.1 929.8L220.7 930.1L218.2 930.5L215.7 930.7L213.3 931.0L210.8 931.2L208.3 931.3L205.9 931.3L203.4 931.4L200.9 931.3L198.5 931.2L196.0 931.1L193.6 930.9L191.1 930.6L188.6 930.3L186.2 929.9L183.7 929.4L181.2 928.9L178.8 928.3L176.3 927.7L173.8 927.0L171.4 926.2L168.9 925.3L166.4 924.4L164.0 923.4L161.5 922.4L159.0 921.3L156.5 920.1L154.1 918.8L151.6 917.4L149.1 916.0L146.6 914.5L144.1 913.0L141.6 911.3L139.2 909.6L136.7 907.8L134.2 906.0L131.7 904.0L129.2 902.0L126.7 900.0L124.2 897.8L121.7 895.6L119.2 893.3L116.7 891.0L114.2 888.5L111.7 886.0L109.2 883.5L106.7 880.8L104.2 878.1L101.7 875.3L99.2 872.5L96.7 869.6L94.1 866.6L91.6 863.6L89.1 860.4L86.6 857.3L84.1 854.0L81.6 850.7L79.1 847.3L76.5 843.9L74.0 840.3L71.5 836.8L69.0 833.1L66.5 829.4L63.9 825.6L61.4 821.8L58.9 817.9L56.4 813.9L53.8 809.9L51.3 805.8L48.8 801.6L46.3 797.4L43.7 793.1L41.2 788.8L38.7 784.4L36.1 779.9L33.6 775.4L31.0 770.8Z" fill="#1d1513"/>
<path d="M809.2 482.0L810.3 483.7L811.4 485.5L812.6 487.2L813.7 489.0L814.9 490.7L816.0 492.4L817.1 494.1L818.3 495.8L819.4 497.5L820.6 499.2L821.7 500.9L822.8 502.5L824.0 504.2L825.1 505.8L826.3 507.5L827.4 509.1L828.6 510.7L829.7 512.3L830.8 513.8L832.0 515.4L833.1 516.9L834.3 518.5L835.4 520.0L836.6 521.5L837.7 523.0L838.9 524.4L840.0 525.9L841.2 527.3L842.3 528.8L843.5 530.2L844.6 531.5L845.8 532.9L846.9 534.3L848.1 535.6L849.3 536.9L850.4 538.2L851.6 539.4L852.7 540.7L853.9 541.9L855.0 543.1L856.2 544.3L857.4 545.5L858.5 546.6L859.7 547.7L860.8 548.8L862.0 549.9L863.2 550.9L864.3 551.9L865.5 552.9L866.7 553.9L867.9 554.8L869.0 555.7L870.2 556.6L871.4 557.5L872.5 558.3L873.7 559.1L874.9 559.9L876.1 560.6L877.2 561.3L878.4 562.0L879.6 562.7L880.8 563.3L882.0 564.0L883.1 564.6L884.3 565.1L885.5 565.7L886.7 566.2L887.9 566.6L889.1 567.1L890.3 567.5L891.4 567.9L892.6 568.3L893.8 568.7L895.0 569.0L896.2 569.3L897.4 569.6L898.6 569.9L899.8 570.1L901.0 570.3L902.1 570.5L903.3 570.7L904.5 570.8L905.7 571.0L906.9 571.1L908.1 571.1L909.3 571.2L910.5 571.2L911.7 571.2L912.9 571.2L914.1 571.2L915.3 571.1L916.4 571.0L917.6 570.9L918.8 570.8L920.0 570.7L921.2 570.5L922.4 570.3L923.6 570.1L924.8 569.9L926.0 569.7L927.2 569.4L928.3 569.1L929.5 568.8L930.7 568.5L931.9 568.2L933.1 567.8L934.3 567.4L935.5 567.0L936.6 566.6L937.8 566.2L939.0 565.8L940.2 565.3L941.4 564.8L942.6 564.3L943.7 563.8L944.9 563.3L946.1 562.7L947.3 562.2L948.5 561.6L949.6 561.0L950.8 560.4L952.0 559.8L953.2 559.1L954.4 558.5L955.5 557.8L956.7 557.1L957.9 556.5L959.1 555.8L960.2 555.0L961.4 554.3L962.6 553.6L963.7 552.8L964.9 552.1L966.1 551.3L967.3 550.5L968.4 549.8L969.6 549.0L970.8 548.2L971.9 547.4L973.1 546.5L974.3 545.7L975.4 544.9L976.6 544.1L977.8 543.2L978.9 542.4L980.1 541.5L981.3 540.6L982.4 539.8L983.6 538.9L984.7 538.0L985.9 537.2L987.1 536.3L988.2 535.4L989.4 534.5L990.5 533.6L991.7 532.7L992.9 531.9L994.0 531.0L995.2 530.1L996.3 529.2L997.5 528.3L998.7 527.4L999.8 526.5L1001.0 525.6L1002.1 524.7L1003.3 523.8L1004.4 523.0L1005.6 522.1L1006.8 521.2L1007.9 520.3L1009.1 519.5L1010.2 518.6L1011.4 517.7L1012.5 516.9L1013.7 516.0L1014.8 515.2L1016.0 514.4L1017.1 513.5L1018.3 512.7L1019.5 511.9L1020.6 511.1L1021.8 510.3L1022.9 509.5L1024.1 508.7L1025.2 507.9L1026.4 507.2L1027.5 506.4L1028.7 505.7L1029.8 504.9L1031.0 504.2L1032.1 503.5L1033.3 502.8L1034.4 502.1L1035.6 501.4L1036.7 500.7L1037.9 500.1L1039.0 499.4L1040.2 498.8L1041.3 498.2L1042.5 497.6L1043.6 497.0L1044.8 496.4L1045.9 495.8L1047.1 495.2L1048.2 494.7L1049.4 494.1L1050.5 493.5L1051.7 493.0L1052.8 492.5L1054.0 492.0L1055.1 491.4L1056.3 490.9L1057.4 490.4L1058.6 490.0L1059.7 489.5L1060.9 489.0L1062.0 488.5L1063.2 488.1L1064.4 487.6L1065.5 487.2L1066.7 486.7L1067.8 486.3L1069.0 485.9L1070.1 485.5L1071.3 485.0L1072.4 484.6L1073.6 484.2L1074.8 483.8L1075.9 483.4L1077.1 483.1L1078.2 482.7L1079.4 482.3L1080.5 481.9L1081.7 481.6L1082.8 481.2L1084.0 480.8L1085.2 480.5L1086.3 480.1L1087.5 479.8L1088.6 479.4L1089.8 479.1L1090.9 478.7L1092.1 478.4L1093.3 478.1L1094.4 477.7L1095.6 477.4L1096.7 477.1L1097.9 476.7L1099.1 476.4L1100.2 476.1L1101.4 475.8L1102.5 475.4L1103.7 475.1L1104.8 474.8L1106.0 474.5L1107.2 474.2L1108.3 473.8L1109.5 473.5L1110.6 473.2L1110.6 472.9L1109.4 473.2L1108.2 473.5L1107.1 473.7L1105.9 474.0L1104.7 474.3L1103.6 474.6L1102.4 474.9L1101.2 475.2L1100.0 475.5L1098.9 475.7L1097.7 476.0L1096.5 476.3L1095.4 476.6L1094.2 476.9L1093.0 477.2L1091.9 477.5L1090.7 477.8L1089.5 478.2L1088.4 478.5L1087.2 478.8L1086.0 479.1L1084.9 479.4L1083.7 479.8L1082.5 480.1L1081.3 480.4L1080.2 480.8L1079.0 481.1L1077.8 481.5L1076.7 481.8L1075.5 482.2L1074.3 482.5L1073.2 482.9L1072.0 483.3L1070.8 483.7L1069.6 484.1L1068.5 484.5L1067.3 484.9L1066.1 485.3L1065.0 485.7L1063.8 486.1L1062.6 486.5L1061.4 487.0L1060.3 487.4L1059.1 487.9L1057.9 488.3L1056.7 488.8L1055.6 489.3L1054.4 489.7L1053.2 490.2L1052.0 490.7L1050.9 491.2L1049.7 491.8L1048.5 492.3L1047.3 492.8L1046.2 493.4L1045.0 493.9L1043.8 494.5L1042.6 495.1L1041.5 495.7L1040.3 496.3L1039.1 496.9L1037.9 497.5L1036.8 498.1L1035.6 498.8L1034.4 499.4L1033.2 500.1L1032.1 500.8L1030.9 501.4L1029.7 502.1L1028.5 502.9L1027.3 503.6L1026.2 504.3L1025.0 505.1L1023.8 505.8L1022.6 506.6L1021.5 507.3L1020.3 508.1L1019.1 508.9L1017.9 509.7L1016.8 510.5L1015.6 511.3L1014.4 512.2L1013.2 513.0L1012.1 513.8L1010.9 514.7L1009.7 515.5L1008.6 516.3L1007.4 517.2L1006.2 518.1L1005.0 518.9L1003.9 519.8L1002.7 520.6L1001.5 521.5L1000.4 522.4L999.2 523.3L998.0 524.1L996.9 525.0L995.7 525.9L994.5 526.8L993.3 527.7L992.2 528.5L991.0 529.4L989.8 530.3L988.7 531.2L987.5 532.0L986.4 532.9L985.2 533.8L984.0 534.6L982.9 535.5L981.7 536.4L980.5 537.2L979.4 538.1L978.2 538.9L977.0 539.8L975.9 540.6L974.7 541.4L973.6 542.3L972.4 543.1L971.2 543.9L970.1 544.7L968.9 545.5L967.8 546.3L966.6 547.1L965.4 547.8L964.3 548.6L963.1 549.3L962.0 550.1L960.8 550.8L959.7 551.5L958.5 552.2L957.4 552.9L956.2 553.6L955.1 554.3L953.9 555.0L952.7 555.6L951.6 556.2L950.4 556.9L949.3 557.5L948.1 558.1L947.0 558.6L945.9 559.2L944.7 559.7L943.6 560.3L942.4 560.8L941.3 561.3L940.1 561.8L939.0 562.2L937.8 562.7L936.7 563.1L935.6 563.5L934.4 563.9L933.3 564.3L932.1 564.7L931.0 565.0L929.8 565.4L928.7 565.7L927.6 566.0L926.4 566.2L925.3 566.5L924.2 566.7L923.0 567.0L921.9 567.2L920.7 567.3L919.6 567.5L918.5 567.7L917.3 567.8L916.2 567.9L915.1 568.0L913.9 568.0L912.8 568.1L911.7 568.1L910.5 568.1L909.4 568.1L908.3 568.0L907.1 568.0L906.0 567.9L904.9 567.8L903.7 567.7L902.6 567.5L901.4 567.3L900.3 567.2L899.2 566.9L898.0 566.7L896.9 566.4L895.8 566.2L894.6 565.9L893.5 565.5L892.4 565.2L891.2 564.8L890.1 564.4L888.9 564.0L887.8 563.5L886.6 563.0L885.5 562.5L884.4 562.0L883.2 561.5L882.1 560.9L880.9 560.3L879.8 559.7L878.6 559.0L877.5 558.3L876.3 557.6L875.2 556.9L874.0 556.1L872.9 555.3L871.7 554.5L870.6 553.7L869.4 552.8L868.3 551.9L867.1 551.0L865.9 550.0L864.8 549.1L863.6 548.1L862.4 547.0L861.3 546.0L860.1 544.9L859.0 543.8L857.8 542.7L856.6 541.5L855.5 540.4L854.3 539.2L853.1 538.0L851.9 536.8L850.8 535.5L849.6 534.2L848.4 532.9L847.3 531.6L846.1 530.3L844.9 529.0L843.7 527.6L842.6 526.2L841.4 524.8L840.2 523.4L839.0 521.9L837.9 520.5L836.7 519.0L835.5 517.5L834.3 516.0L833.1 514.5L832.0 513.0L830.8 511.5L829.6 509.9L828.4 508.3L827.2 506.8L826.1 505.2L824.9 503.6L823.7 501.9L822.5 500.3L821.3 498.7L820.1 497.0L818.9 495.4L817.8 493.7L816.6 492.0L815.4 490.3L814.2 488.6L813.0 486.9L811.8 485.2L810.6 483.5L809.4 481.8Z" fill="#1d1513"/>
<g transform="translate(775.7,0)">
<path d="M379.5 506.9L380.6 508.6L381.7 510.4L382.8 512.1L384.0 513.9L385.1 515.6L386.2 517.4L387.3 519.1L388.4 520.9L389.5 522.6L390.7 524.4L391.8 526.1L392.9 527.9L394.0 529.6L395.1 531.3L396.2 533.0L397.4 534.8L398.5 536.5L399.6 538.2L400.7 539.9L401.8 541.6L402.9 543.3L404.0 545.0L405.2 546.7L406.3 548.3L407.4 550.0L408.5 551.7L409.6 553.3L410.7 555.0L411.9 556.6L413.0 558.3L414.1 559.9L415.2 561.5L416.3 563.1L417.4 564.7L418.6 566.3L419.7 567.9L420.8 569.4L421.9 571.0L423.0 572.6L424.1 574.1L425.2 575.6L426.4 577.1L427.5 578.6L428.6 580.1L429.7 581.6L430.8 583.1L431.9 584.6L433.1 586.0L434.2 587.4L435.3 588.9L436.4 590.3L437.5 591.7L438.6 593.0L439.8 594.4L440.9 595.8L442.0 597.1L443.1 598.4L444.2 599.7L445.3 601.0L446.4 602.3L447.6 603.5L448.7 604.8L449.8 606.0L450.9 607.2L452.0 608.4L453.1 609.6L454.3 610.7L455.4 611.9L456.5 613.0L457.6 614.1L458.7 615.2L459.8 616.3L461.0 617.3L462.1 618.3L463.2 619.3L464.3 620.3L465.4 621.3L466.5 622.2L467.7 623.2L468.8 624.1L469.9 625.0L471.0 625.8L472.1 626.7L473.2 627.5L474.3 628.3L475.5 629.1L476.6 629.8L477.7 630.6L478.8 631.3L479.9 631.9L481.0 632.6L482.2 633.2L483.3 633.8L484.4 634.4L485.5 635.0L486.6 635.5L487.7 636.0L488.9 636.5L490.0 637.0L491.1 637.4L492.2 637.8L493.3 638.2L494.4 638.6L495.5 638.9L496.7 639.2L497.8 639.5L498.9 639.7L500.0 639.9L501.1 640.1L502.2 640.3L503.4 640.4L504.5 640.5L505.6 640.6L506.7 640.6L507.8 640.6L508.9 640.6L510.1 640.6L511.2 640.5L512.3 640.4L513.4 640.3L514.5 640.1L515.6 639.9L516.7 639.6L517.9 639.4L519.0 639.1L520.1 638.7L521.2 638.4L522.3 638.0L523.4 637.5L524.6 637.1L525.7 636.6L526.8 636.0L527.9 635.5L529.0 634.9L530.1 634.3L531.3 633.6L532.4 632.9L533.5 632.2L534.6 631.5L535.7 630.7L536.8 629.9L537.9 629.1L539.1 628.2L540.2 627.4L541.3 626.5L542.4 625.5L543.5 624.6L544.6 623.6L545.8 622.6L546.9 621.6L548.0 620.6L549.1 619.5L550.2 618.4L551.3 617.3L552.5 616.2L553.6 615.0L554.7 613.9L555.8 612.7L556.9 611.5L558.0 610.3L559.1 609.0L560.3 607.8L561.4 606.5L562.5 605.2L563.6 603.9L564.7 602.6L565.8 601.3L567.0 599.9L568.1 598.6L569.2 597.2L570.3 595.8L571.4 594.5L572.5 593.1L573.7 591.7L574.8 590.3L575.9 589.0L577.0 587.6L578.1 586.2L579.2 584.8L580.3 583.4L581.5 582.0L582.6 580.6L583.7 579.3L584.8 577.9L585.9 576.5L587.0 575.2L588.2 573.8L589.3 572.5L590.4 571.1L591.5 569.8L592.6 568.5L593.7 567.2L594.9 565.9L596.0 564.7L597.1 563.4L598.2 562.2L599.3 561.0L600.4 559.8L601.6 558.6L602.7 557.4L603.8 556.3L604.9 555.2L606.0 554.1L607.1 553.0L608.2 551.9L609.4 550.9L610.5 549.8L611.6 548.8L612.7 547.8L613.8 546.9L614.9 545.9L616.1 545.0L617.2 544.1L618.3 543.2L619.4 542.3L620.5 541.5L621.6 540.7L622.8 539.9L623.9 539.1L625.0 538.3L626.1 537.6L627.2 536.9L628.3 536.2L629.4 535.6L630.6 534.9L631.7 534.3L632.8 533.7L633.9 533.1L635.0 532.6L636.1 532.1L637.3 531.6L638.4 531.1L639.5 530.7L640.6 530.2L641.7 529.8L642.8 529.4L644.0 529.1L645.1 528.7L646.2 528.4L647.3 528.1L648.4 527.9L649.5 527.6L650.6 527.4L651.8 527.1L652.9 526.9L654.0 526.8L655.1 526.6L656.2 526.5L657.3 526.3L658.5 526.2L659.6 526.1L660.7 526.0L661.8 526.0L662.9 525.9L664.0 525.9L665.2 525.9L666.3 525.9L667.4 525.9L668.5 525.9Z" fill="url(#gT1)"/>
<path d="M379.4 506.9L380.5 508.7L381.5 510.5L382.6 512.3L383.7 514.0L384.8 515.8L385.9 517.6L387.0 519.3L388.1 521.1L389.2 522.9L390.3 524.6L391.4 526.4L392.5 528.1L393.5 529.9L394.6 531.6L395.7 533.4L396.8 535.1L397.9 536.8L399.0 538.6L400.1 540.3L401.2 542.0L402.3 543.7L403.4 545.4L404.5 547.1L405.6 548.8L406.7 550.5L407.8 552.2L408.9 553.8L410.0 555.5L411.1 557.2L412.2 558.8L413.3 560.4L414.4 562.1L415.5 563.7L416.6 565.3L417.7 566.9L418.8 568.5L419.9 570.1L421.0 571.7L422.1 573.2L423.2 574.8L424.3 576.3L425.4 577.9L426.5 579.4L427.6 580.9L428.7 582.4L429.8 583.9L430.9 585.3L432.0 586.8L433.1 588.2L434.3 589.7L435.4 591.1L436.5 592.5L437.6 593.9L438.7 595.3L439.8 596.6L440.9 598.0L442.0 599.3L443.1 600.6L444.2 602.0L445.4 603.2L446.5 604.5L447.6 605.8L448.7 607.0L449.8 608.2L450.9 609.4L452.0 610.6L453.2 611.8L454.3 613.0L455.4 614.1L456.5 615.2L457.6 616.3L458.8 617.4L459.9 618.5L461.0 619.5L462.1 620.5L463.2 621.5L464.4 622.5L465.5 623.5L466.6 624.4L467.7 625.4L468.9 626.3L470.0 627.1L471.1 628.0L472.3 628.8L473.4 629.7L474.5 630.4L475.6 631.2L476.8 632.0L477.9 632.7L479.1 633.4L480.2 634.1L481.3 634.7L482.5 635.3L483.6 636.0L484.7 636.5L485.9 637.1L487.0 637.6L488.2 638.1L489.3 638.6L490.5 639.0L491.6 639.5L492.8 639.9L493.9 640.2L495.1 640.6L496.2 640.9L497.4 641.2L498.5 641.4L499.7 641.6L500.9 641.8L502.0 642.0L503.2 642.2L504.3 642.3L505.5 642.3L506.7 642.4L507.8 642.4L509.0 642.4L510.2 642.3L511.3 642.2L512.5 642.1L513.6 642.0L514.8 641.8L516.0 641.6L517.1 641.3L518.3 641.1L519.5 640.8L520.6 640.4L521.8 640.0L522.9 639.6L524.1 639.2L525.3 638.7L526.4 638.2L527.6 637.6L528.7 637.0L529.9 636.4L531.0 635.8L532.1 635.1L533.3 634.4L534.4 633.7L535.6 632.9L536.7 632.1L537.8 631.3L539.0 630.5L540.1 629.6L541.2 628.7L542.4 627.8L543.5 626.9L544.6 625.9L545.8 624.9L546.9 623.9L548.0 622.8L549.1 621.8L550.3 620.7L551.4 619.6L552.5 618.5L553.6 617.3L554.8 616.2L555.9 615.0L557.0 613.8L558.1 612.6L559.2 611.3L560.4 610.1L561.5 608.8L562.6 607.5L563.7 606.2L564.8 604.9L565.9 603.6L567.0 602.3L568.2 600.9L569.3 599.5L570.4 598.2L571.5 596.8L572.6 595.4L573.7 594.0L574.8 592.7L575.9 591.3L577.0 589.9L578.1 588.5L579.2 587.1L580.3 585.7L581.4 584.3L582.5 582.9L583.7 581.5L584.8 580.1L585.9 578.7L587.0 577.4L588.1 576.0L589.2 574.6L590.3 573.3L591.4 572.0L592.5 570.6L593.6 569.3L594.7 568.0L595.8 566.7L596.9 565.5L598.0 564.2L599.1 563.0L600.2 561.8L601.3 560.6L602.4 559.4L603.5 558.2L604.6 557.1L605.7 555.9L606.8 554.8L607.9 553.7L608.9 552.7L610.0 551.6L611.1 550.6L612.2 549.6L613.3 548.6L614.4 547.6L615.5 546.6L616.6 545.7L617.7 544.8L618.8 543.9L619.9 543.0L621.0 542.2L622.1 541.3L623.2 540.5L624.3 539.8L625.4 539.0L626.5 538.3L627.6 537.5L628.7 536.8L629.8 536.2L630.9 535.5L632.0 534.9L633.1 534.3L634.2 533.7L635.3 533.2L636.4 532.6L637.5 532.1L638.6 531.7L639.7 531.2L640.8 530.8L641.9 530.3L643.0 530.0L644.1 529.6L645.2 529.2L646.3 528.9L647.4 528.6L648.5 528.3L649.6 528.0L650.7 527.8L651.8 527.6L652.9 527.3L654.1 527.1L655.2 527.0L656.3 526.8L657.4 526.7L658.5 526.5L659.6 526.4L660.7 526.3L661.8 526.2L662.9 526.2L664.0 526.1L665.2 526.1L666.3 526.1L667.4 526.0L668.5 526.0L668.5 525.7L667.4 525.7L666.3 525.7L665.1 525.7L664.0 525.7L662.9 525.7L661.8 525.7L660.7 525.8L659.5 525.8L658.4 525.9L657.3 526.0L656.2 526.1L655.1 526.2L653.9 526.4L652.8 526.6L651.7 526.7L650.6 526.9L649.4 527.2L648.3 527.4L647.2 527.7L646.1 528.0L644.9 528.3L643.8 528.6L642.7 528.9L641.5 529.3L640.4 529.7L639.3 530.1L638.1 530.6L637.0 531.0L635.9 531.5L634.7 532.0L633.6 532.5L632.5 533.1L631.3 533.7L630.2 534.3L629.1 534.9L627.9 535.6L626.8 536.3L625.7 537.0L624.5 537.7L623.4 538.4L622.3 539.2L621.1 540.0L620.0 540.8L618.9 541.7L617.7 542.5L616.6 543.4L615.5 544.3L614.3 545.2L613.2 546.2L612.1 547.1L610.9 548.1L609.8 549.1L608.7 550.1L607.5 551.2L606.4 552.2L605.3 553.3L604.1 554.4L603.0 555.5L601.9 556.7L600.7 557.8L599.6 559.0L598.5 560.2L597.3 561.4L596.2 562.6L595.1 563.9L593.9 565.1L592.8 566.4L591.7 567.7L590.5 569.0L589.4 570.3L588.3 571.6L587.2 573.0L586.0 574.3L584.9 575.7L583.8 577.0L582.6 578.4L581.5 579.8L580.4 581.1L579.3 582.5L578.1 583.9L577.0 585.3L575.9 586.7L574.7 588.0L573.6 589.4L572.5 590.8L571.4 592.2L570.3 593.5L569.1 594.9L568.0 596.2L566.9 597.6L565.8 598.9L564.6 600.2L563.5 601.6L562.4 602.9L561.3 604.2L560.2 605.4L559.1 606.7L557.9 607.9L556.8 609.2L555.7 610.4L554.6 611.6L553.5 612.7L552.4 613.9L551.3 615.0L550.2 616.1L549.1 617.2L547.9 618.3L546.8 619.3L545.7 620.4L544.6 621.4L543.5 622.4L542.4 623.3L541.3 624.2L540.2 625.1L539.1 626.0L538.0 626.9L536.9 627.7L535.8 628.5L534.7 629.3L533.6 630.0L532.5 630.8L531.5 631.5L530.4 632.1L529.3 632.8L528.2 633.4L527.1 633.9L526.0 634.5L524.9 635.0L523.9 635.5L522.8 635.9L521.7 636.3L520.6 636.7L519.6 637.1L518.5 637.4L517.4 637.7L516.4 637.9L515.3 638.2L514.2 638.4L513.2 638.5L512.1 638.7L511.0 638.8L510.0 638.8L508.9 638.9L507.8 638.9L506.7 638.9L505.7 638.8L504.6 638.8L503.5 638.7L502.5 638.6L501.4 638.4L500.3 638.2L499.2 638.0L498.2 637.8L497.1 637.5L496.0 637.2L494.9 636.9L493.9 636.6L492.8 636.2L491.7 635.8L490.6 635.4L489.5 635.0L488.4 634.5L487.3 634.0L486.3 633.5L485.2 632.9L484.1 632.3L483.0 631.8L481.9 631.1L480.8 630.5L479.7 629.8L478.6 629.1L477.5 628.4L476.4 627.7L475.3 626.9L474.2 626.1L473.1 625.3L472.0 624.5L470.9 623.7L469.8 622.8L468.7 621.9L467.6 621.0L466.5 620.1L465.4 619.1L464.3 618.1L463.1 617.2L462.0 616.1L460.9 615.1L459.8 614.1L458.7 613.0L457.6 611.9L456.5 610.8L455.4 609.7L454.2 608.5L453.1 607.4L452.0 606.2L450.9 605.0L449.8 603.8L448.7 602.6L447.5 601.3L446.4 600.1L445.3 598.8L444.2 597.5L443.1 596.2L441.9 594.9L440.8 593.5L439.7 592.2L438.6 590.8L437.5 589.4L436.3 588.0L435.2 586.6L434.1 585.2L433.0 583.8L431.8 582.3L430.7 580.9L429.6 579.4L428.5 577.9L427.3 576.4L426.2 574.9L425.1 573.4L423.9 571.9L422.8 570.4L421.7 568.8L420.6 567.3L419.4 565.7L418.3 564.1L417.2 562.5L416.0 560.9L414.9 559.3L413.8 557.7L412.6 556.1L411.5 554.5L410.4 552.8L409.2 551.2L408.1 549.5L407.0 547.9L405.8 546.2L404.7 544.6L403.6 542.9L402.4 541.2L401.3 539.5L400.2 537.8L399.0 536.1L397.9 534.4L396.7 532.7L395.6 531.0L394.5 529.3L393.3 527.6L392.2 525.9L391.0 524.1L389.9 522.4L388.8 520.7L387.6 518.9L386.5 517.2L385.3 515.5L384.2 513.7L383.1 512.0L381.9 510.3L380.8 508.5L379.6 506.8Z" fill="#1d1513"/>
</g>
<path d="M806.2 771.0L808.6 775.6L811.1 780.2L813.5 784.7L816.0 789.1L818.5 793.5L820.9 797.8L823.4 802.1L825.9 806.3L828.4 810.4L830.8 814.5L833.3 818.5L835.8 822.5L838.3 826.3L840.7 830.2L843.2 833.9L845.7 837.6L848.2 841.2L850.7 844.8L853.1 848.3L855.6 851.7L858.1 855.1L860.6 858.4L863.1 861.6L865.6 864.7L868.1 867.8L870.5 870.9L873.0 873.8L875.5 876.7L878.0 879.5L880.5 882.3L883.0 885.0L885.5 887.6L888.0 890.1L890.5 892.6L893.0 895.0L895.5 897.4L898.0 899.6L900.5 901.8L903.0 904.0L905.5 906.0L908.0 908.0L910.5 909.9L913.0 911.7L915.6 913.5L918.1 915.2L920.6 916.8L923.1 918.4L925.6 919.8L928.1 921.2L930.7 922.6L933.2 923.8L935.7 925.0L938.2 926.1L940.8 927.1L943.3 928.1L945.8 929.0L948.4 929.8L950.9 930.5L953.4 931.2L956.0 931.8L958.5 932.4L961.0 932.9L963.6 933.3L966.1 933.6L968.6 933.9L971.2 934.2L973.7 934.3L976.3 934.5L978.8 934.5L981.3 934.5L983.9 934.5L986.4 934.4L988.9 934.2L991.5 934.0L994.0 933.7L996.5 933.4L999.1 933.0L1001.6 932.6L1004.1 932.1L1006.7 931.6L1009.2 931.0L1011.7 930.4L1014.2 929.8L1016.8 929.1L1019.3 928.3L1021.8 927.6L1024.3 926.8L1026.9 925.9L1029.4 925.0L1031.9 924.1L1034.4 923.1L1036.9 922.1L1039.5 921.1L1042.0 920.1L1044.5 919.0L1047.0 917.9L1049.5 916.7L1052.0 915.6L1054.6 914.4L1057.1 913.2L1059.6 912.0L1062.1 910.8L1064.6 909.5L1067.1 908.2L1069.6 906.9L1072.1 905.6L1074.6 904.3L1077.1 903.0L1079.6 901.6L1082.2 900.3L1084.7 898.9L1087.2 897.6L1089.7 896.2L1092.2 894.8L1094.7 893.5L1097.2 892.1L1099.7 890.7L1102.2 889.3L1104.7 888.0L1107.2 886.6L1109.7 885.2L1112.2 883.8L1114.7 882.5L1117.2 881.1L1119.7 879.7L1122.2 878.4L1124.7 877.0L1127.2 875.6L1129.7 874.2L1132.2 872.9L1134.7 871.5L1137.2 870.1L1139.6 868.8L1142.1 867.4L1144.6 866.1L1147.1 864.7L1149.6 863.4L1152.1 862.0L1154.6 860.7L1157.1 859.3L1159.6 858.0L1162.1 856.6L1164.6 855.3L1167.1 854.0L1169.6 852.6L1172.1 851.3L1174.6 850.0L1177.1 848.7L1179.6 847.4L1182.1 846.1L1184.6 844.7L1187.1 843.4L1189.6 842.2L1192.1 840.9L1194.6 839.6L1197.0 838.3L1199.5 837.0L1202.0 835.8L1204.5 834.5L1207.0 833.2L1209.5 832.0L1212.0 830.7L1214.5 829.5L1217.0 828.3L1219.5 827.0L1222.0 825.8L1224.5 824.6L1227.0 823.4L1229.5 822.2L1232.0 821.0L1234.4 819.8L1236.9 818.6L1239.4 817.5L1241.9 816.3L1244.4 815.2L1246.9 814.0L1249.4 812.9L1251.9 811.7L1254.4 810.6L1256.9 809.5L1259.4 808.4L1261.9 807.3L1264.3 806.2L1266.8 805.1L1269.3 804.1L1271.8 803.0L1274.3 802.0L1276.8 800.9L1279.3 799.9L1281.8 798.9L1284.3 797.9L1286.8 796.9L1289.3 795.9L1291.7 794.9L1294.2 793.9L1296.7 793.0L1299.2 792.0L1301.7 791.1L1304.2 790.2L1306.7 789.3L1309.2 788.4L1311.7 787.5L1314.2 786.7L1316.6 785.8L1319.1 785.0L1321.6 784.2L1324.1 783.3L1326.6 782.6L1329.1 781.8L1331.6 781.0L1334.1 780.3L1336.6 779.5L1339.1 778.8L1341.5 778.1L1344.0 777.5L1346.5 776.8L1349.0 776.2L1351.5 775.5L1354.0 774.9L1356.5 774.3L1359.0 773.8L1361.5 773.2L1364.0 772.7L1366.5 772.2L1368.9 771.7L1371.4 771.2L1373.9 770.8L1376.4 770.4L1378.9 769.9L1381.4 769.6L1383.9 769.2L1386.4 768.8L1388.9 768.5L1391.4 768.2L1393.9 767.9L1396.4 767.6L1398.9 767.4L1401.3 767.1L1403.8 766.9L1406.3 766.7L1408.8 766.5L1411.3 766.3L1413.8 766.2L1416.3 766.0L1418.8 765.9L1421.3 765.8L1423.8 765.7L1426.3 765.6L1428.8 765.5L1431.3 765.5L1433.8 765.5L1436.3 765.4L1438.8 765.4L1441.3 765.4L1443.8 765.5L1446.3 765.5L1448.8 765.5L1451.3 765.6L1453.8 765.7L1453.8 765.4L1451.3 765.2L1448.8 765.1L1446.3 765.0L1443.8 765.0L1441.3 764.9L1438.8 764.9L1436.3 764.8L1433.8 764.8L1431.3 764.8L1428.8 764.8L1426.3 764.8L1423.8 764.9L1421.3 764.9L1418.8 765.0L1416.3 765.1L1413.8 765.2L1411.3 765.3L1408.8 765.5L1406.3 765.6L1403.8 765.8L1401.3 766.0L1398.7 766.2L1396.2 766.4L1393.7 766.7L1391.2 766.9L1388.7 767.2L1386.2 767.5L1383.7 767.8L1381.2 768.2L1378.7 768.5L1376.2 768.9L1373.7 769.3L1371.2 769.7L1368.7 770.2L1366.1 770.6L1363.6 771.1L1361.1 771.6L1358.6 772.1L1356.1 772.7L1353.6 773.2L1351.1 773.8L1348.6 774.4L1346.1 775.0L1343.6 775.6L1341.1 776.3L1338.5 777.0L1336.0 777.6L1333.5 778.3L1331.0 779.1L1328.5 779.8L1326.0 780.5L1323.5 781.3L1321.0 782.1L1318.5 782.9L1316.0 783.7L1313.4 784.5L1310.9 785.4L1308.4 786.2L1305.9 787.1L1303.4 788.0L1300.9 788.9L1298.4 789.8L1295.9 790.7L1293.4 791.6L1290.9 792.6L1288.3 793.5L1285.8 794.5L1283.3 795.5L1280.8 796.5L1278.3 797.5L1275.8 798.5L1273.3 799.5L1270.8 800.5L1268.3 801.6L1265.8 802.6L1263.3 803.7L1260.7 804.7L1258.2 805.8L1255.7 806.9L1253.2 808.0L1250.7 809.1L1248.2 810.2L1245.7 811.3L1243.2 812.5L1240.7 813.6L1238.2 814.8L1235.7 815.9L1233.2 817.1L1230.6 818.2L1228.1 819.4L1225.6 820.6L1223.1 821.8L1220.6 823.0L1218.1 824.2L1215.6 825.4L1213.1 826.6L1210.6 827.9L1208.1 829.1L1205.6 830.3L1203.1 831.6L1200.6 832.8L1198.1 834.1L1195.6 835.4L1193.0 836.6L1190.5 837.9L1188.0 839.2L1185.5 840.5L1183.0 841.8L1180.5 843.0L1178.0 844.3L1175.5 845.6L1173.0 847.0L1170.5 848.3L1168.0 849.6L1165.5 850.9L1163.0 852.2L1160.5 853.6L1158.0 854.9L1155.5 856.2L1153.0 857.6L1150.5 858.9L1148.0 860.3L1145.5 861.6L1143.0 863.0L1140.5 864.3L1138.0 865.7L1135.4 867.0L1132.9 868.4L1130.4 869.7L1127.9 871.1L1125.4 872.5L1122.9 873.8L1120.4 875.2L1117.9 876.6L1115.4 877.9L1112.9 879.3L1110.4 880.7L1107.9 882.1L1105.4 883.4L1102.9 884.8L1100.4 886.2L1097.9 887.6L1095.4 888.9L1092.9 890.3L1090.4 891.7L1087.9 893.1L1085.4 894.4L1082.9 895.8L1080.4 897.1L1078.0 898.5L1075.5 899.8L1073.0 901.1L1070.5 902.5L1068.0 903.8L1065.5 905.1L1063.0 906.3L1060.5 907.6L1058.0 908.8L1055.5 910.0L1053.0 911.2L1050.6 912.4L1048.1 913.6L1045.6 914.7L1043.1 915.8L1040.6 916.9L1038.1 917.9L1035.7 918.9L1033.2 919.9L1030.7 920.9L1028.2 921.8L1025.7 922.7L1023.3 923.5L1020.8 924.3L1018.3 925.1L1015.8 925.8L1013.4 926.5L1010.9 927.2L1008.4 927.8L1005.9 928.4L1003.5 928.9L1001.0 929.3L998.5 929.8L996.1 930.1L993.6 930.5L991.1 930.7L988.7 931.0L986.2 931.2L983.7 931.3L981.3 931.3L978.8 931.4L976.3 931.3L973.9 931.2L971.4 931.1L969.0 930.9L966.5 930.6L964.0 930.3L961.6 929.9L959.1 929.4L956.6 928.9L954.2 928.3L951.7 927.7L949.2 927.0L946.8 926.2L944.3 925.3L941.8 924.4L939.4 923.4L936.9 922.4L934.4 921.3L931.9 920.1L929.5 918.8L927.0 917.4L924.5 916.0L922.0 914.5L919.5 913.0L917.0 911.3L914.6 909.6L912.1 907.8L909.6 906.0L907.1 904.0L904.6 902.0L902.1 900.0L899.6 897.8L897.1 895.6L894.6 893.3L892.1 891.0L889.6 888.5L887.1 886.0L884.6 883.5L882.1 880.8L879.6 878.1L877.1 875.3L874.6 872.5L872.1 869.6L869.5 866.6L867.0 863.6L864.5 860.4L862.0 857.3L859.5 854.0L857.0 850.7L854.5 847.3L851.9 843.9L849.4 840.3L846.9 836.8L844.4 833.1L841.9 829.4L839.3 825.6L836.8 821.8L834.3 817.9L831.8 813.9L829.2 809.9L826.7 805.8L824.2 801.6L821.7 797.4L819.1 793.1L816.6 788.8L814.1 784.4L811.5 779.9L809.0 775.4L806.4 770.8Z" fill="#1d1513"/>
<rect x="130.85" y="570" width="4.3" height="312" fill="#1d9de0"/>
<path d="M133 906.2L119.1 873L133 879.8L146.5 873Z" fill="#1d9de0"/>
<rect x="506.1" y="642" width="1.7" height="142" fill="#22ac38"/>
<path d="M507 794.2L500.6 778.6L507 782.4L513.6 778.6Z" fill="#22ac38"/>
<rect x="1280.6" y="642" width="6.4" height="121" fill="#22ac38"/>
<path d="M1283.8 794.3L1265.9 752.2L1283.8 760.6L1301.6 752.2Z" fill="#22ac38"/>
<path d="M302.9 463.8C343.4 452.6 390.8 458.9 411 518.6L411.8 521.2" stroke="#e60012" stroke-width="4.6" fill="none"/>
<path d="M416.1 543.4L397 514.4L411.2 518.6L423.9 509.5Z" fill="#e60012"/>
<circle cx="145.1" cy="483.7" r="15" fill="#2ea0e0"/>
<path d="M139.2 495.0V479.5H137.3L140.0 473.9L142.7 479.5H140.8V495.0Z" fill="#fff"/>
<path d="M148.8 473.0V489.2H146.9L149.5 494.8L152.1 489.2H150.2V473.0Z" fill="#fff"/>
<circle cx="507.1" cy="543.9" r="15" fill="#1aaa61"/>
<path d="M501.1 556.0V539.9H499.3L502.0 534.3L504.7 539.9H502.9V556.0Z" fill="#fff"/>
<path d="M510.6 556.0V539.9H508.8L511.5 534.3L514.2 539.9H512.4V556.0Z" fill="#fff"/>
<circle cx="1283.7" cy="544.1" r="15" fill="#1aaa61"/>
<path d="M1277.8 556.2V540.1H1275.9L1278.6 534.5L1281.3 540.1H1279.5V556.2Z" fill="#fff"/>
<path d="M1287.3 556.2V540.1H1285.4L1288.1 534.5L1290.8 540.1H1289.0V556.2Z" fill="#fff"/>
</svg></body></html>
